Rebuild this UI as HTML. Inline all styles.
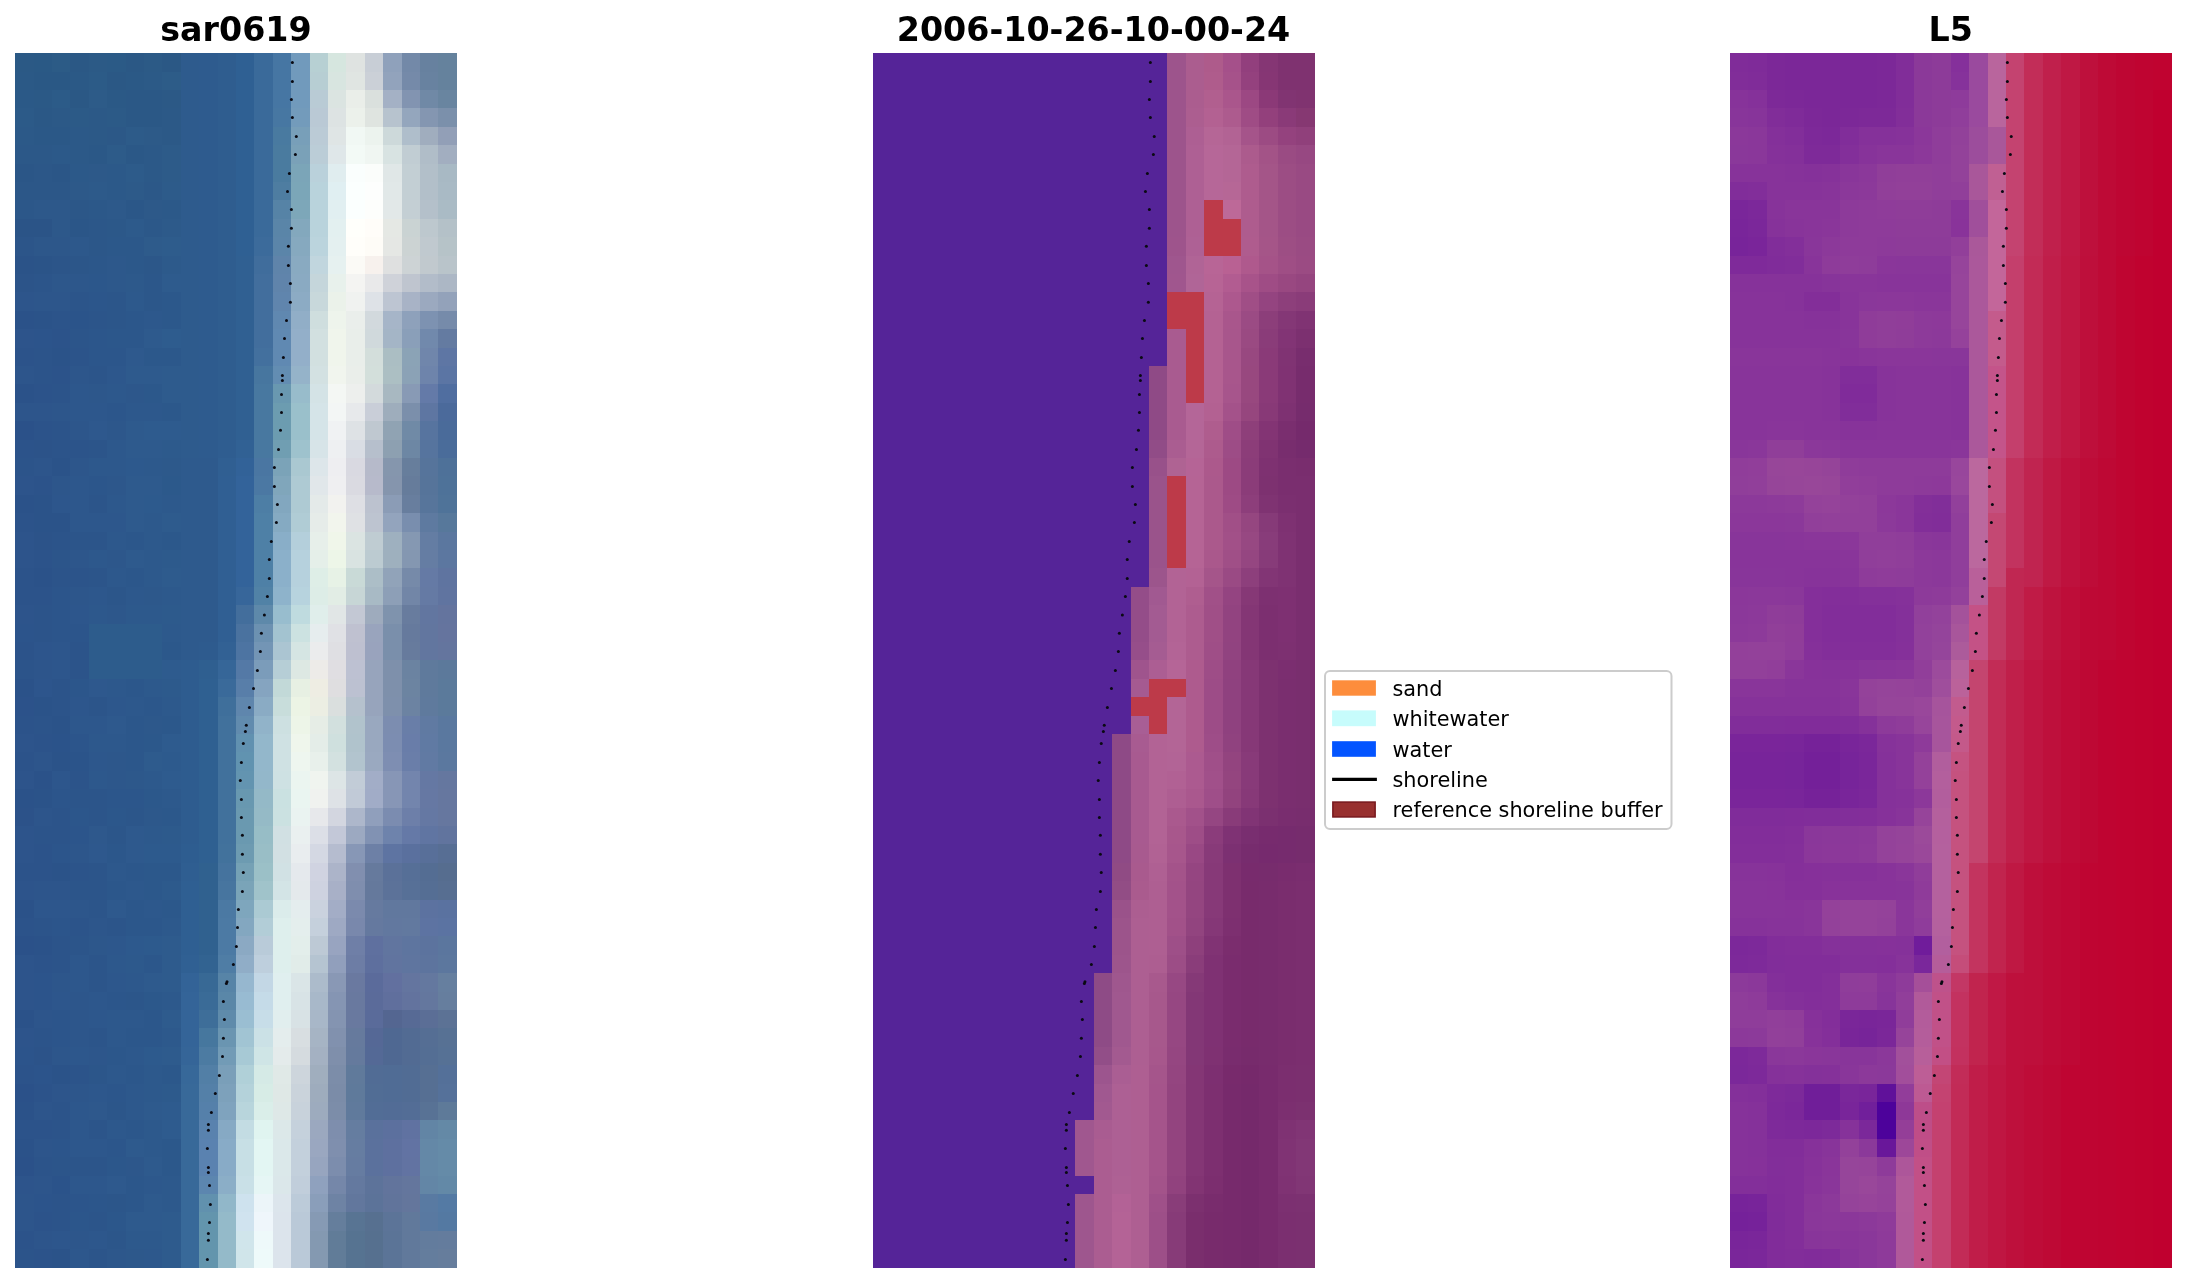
<!DOCTYPE html>
<html lang="en"><head><meta charset="utf-8"><title>shoreline detection figure</title>
<style>
html,body{margin:0;padding:0;background:#fff}
body{width:2187px;height:1283px;overflow:hidden}
svg{display:block;will-change:transform}
.t{font-family:"DejaVu Sans","Liberation Sans",sans-serif;font-weight:bold;font-size:33.3px;fill:#000;text-anchor:middle}
.l{font-family:"DejaVu Sans","Liberation Sans",sans-serif;font-size:20.83px;fill:#000}
.px{shape-rendering:crispEdges}
</style></head>
<body>
<svg width="2187" height="1283" viewBox="0 0 2187 1283">
<g class="px" transform="translate(15.15,53.2) scale(18.4)">
<path d="M0 0h1v1h-1z" fill="#2b5985"/>
<path d="M1 0h1v1h-1z" fill="#2a5985"/>
<path d="M2 0h1v1h-1z" fill="#2c5b86"/>
<path d="M3 0h1v1h-1z" fill="#2b5885"/>
<path d="M4 0h1v1h-1z" fill="#2c5a86"/>
<path d="M5 0h1v1h-1z" fill="#2b5a86"/>
<path d="M6 0h1v1h-1z" fill="#2b5885"/>
<path d="M7 0h1v1h-1z" fill="#2c5a86"/>
<path d="M8 0h1v1h-1z" fill="#2b5885"/>
<path d="M9 0h1v22h-1z" fill="#2e5b8d"/>
<path d="M10 0h1v22h-1z" fill="#2e5b8e"/>
<path d="M11 0h1v21h-1z" fill="#2f5d8f"/>
<path d="M12 0h1v11h-1z" fill="#2f6093"/>
<path d="M13 0h1v10h-1z" fill="#3a6a9a"/>
<path d="M14 0h1v3h-1z" fill="#4676a3"/>
<path d="M15 0h1v3h-1z" fill="#719abc"/>
<path d="M16 0h1v1h-1z" fill="#b7d0d3"/>
<path d="M17 0h1v1h-1z" fill="#d6e6df"/>
<path d="M18 0h1v1h-1z" fill="#dfe3e1"/>
<path d="M19 0h1v1h-1z" fill="#c8ced6"/>
<path d="M20 0h1v1h-1z" fill="#8fa1bb"/>
<path d="M21 0h1v1h-1z" fill="#7389a8"/>
<path d="M22 0h1v1h-1z" fill="#67819f"/>
<path d="M23 0h1v2h-1z" fill="#65829d"/>
<path d="M0 1h1v1h-1z" fill="#2b5986"/>
<path d="M1 1h2v1h-2z" fill="#2a5885"/>
<path d="M3 1h1v1h-1z" fill="#2b5986"/>
<path d="M4 1h1v1h-1z" fill="#2c5b87"/>
<path d="M5 1h1v1h-1z" fill="#2b5885"/>
<path d="M6 1h1v1h-1z" fill="#2b5986"/>
<path d="M7 1h1v1h-1z" fill="#2c5a87"/>
<path d="M8 1h1v1h-1z" fill="#2d5c88"/>
<path d="M16 1h1v1h-1z" fill="#b7ced3"/>
<path d="M17 1h1v1h-1z" fill="#d8e5e0"/>
<path d="M18 1h1v1h-1z" fill="#e0e5e2"/>
<path d="M19 1h1v1h-1z" fill="#cbd0d7"/>
<path d="M20 1h1v1h-1z" fill="#92a3bc"/>
<path d="M21 1h1v1h-1z" fill="#758aa9"/>
<path d="M22 1h1v1h-1z" fill="#6882a0"/>
<path d="M0 2h1v1h-1z" fill="#2b5987"/>
<path d="M1 2h1v1h-1z" fill="#2b5986"/>
<path d="M2 2h1v1h-1z" fill="#2c5b88"/>
<path d="M3 2h1v1h-1z" fill="#2b5885"/>
<path d="M4 2h1v1h-1z" fill="#2d5b88"/>
<path d="M5 2h1v1h-1z" fill="#2b5986"/>
<path d="M6 2h2v2h-2z" fill="#2b5886"/>
<path d="M8 2h1v1h-1z" fill="#2c5986"/>
<path d="M16 2h1v1h-1z" fill="#b9cbd5"/>
<path d="M17 2h1v1h-1z" fill="#dbe4e1"/>
<path d="M18 2h1v1h-1z" fill="#eaeee9"/>
<path d="M19 2h1v1h-1z" fill="#dae0dd"/>
<path d="M20 2h1v1h-1z" fill="#a4b1c5"/>
<path d="M21 2h1v1h-1z" fill="#8294b1"/>
<path d="M22 2h1v1h-1z" fill="#7089a6"/>
<path d="M23 2h1v1h-1z" fill="#6985a0"/>
<path d="M0 3h1v1h-1z" fill="#2c5a88"/>
<path d="M1 3h1v1h-1z" fill="#2b5886"/>
<path d="M2 3h1v1h-1z" fill="#2c5987"/>
<path d="M3 3h1v1h-1z" fill="#2c5a87"/>
<path d="M4 3h1v2h-1z" fill="#2c5987"/>
<path d="M5 3h1v1h-1z" fill="#2c5a87"/>
<path d="M8 3h1v2h-1z" fill="#2c5987"/>
<path d="M14 3h1v1h-1z" fill="#4777a2"/>
<path d="M15 3h1v1h-1z" fill="#739bbb"/>
<path d="M16 3h1v1h-1z" fill="#bac9d5"/>
<path d="M17 3h1v1h-1z" fill="#dde3e3"/>
<path d="M18 3h1v1h-1z" fill="#ecf1eb"/>
<path d="M19 3h1v1h-1z" fill="#dfe4e0"/>
<path d="M20 3h1v1h-1z" fill="#b7c3ce"/>
<path d="M21 3h1v1h-1z" fill="#94a6bd"/>
<path d="M22 3h1v1h-1z" fill="#8496b1"/>
<path d="M23 3h1v1h-1z" fill="#7b90ab"/>
<path d="M0 4h1v1h-1z" fill="#2c5988"/>
<path d="M1 4h2v1h-2z" fill="#2b5887"/>
<path d="M3 4h1v2h-1z" fill="#2c5988"/>
<path d="M5 4h1v1h-1z" fill="#2c5887"/>
<path d="M6 4h1v1h-1z" fill="#2d5b89"/>
<path d="M7 4h1v1h-1z" fill="#2d5a88"/>
<path d="M14 4h1v1h-1z" fill="#497aa0"/>
<path d="M15 4h1v1h-1z" fill="#789fb9"/>
<path d="M16 4h1v1h-1z" fill="#bbcbd6"/>
<path d="M17 4h1v1h-1z" fill="#dfe5e5"/>
<path d="M18 4h1v1h-1z" fill="#f1f8f4"/>
<path d="M19 4h1v1h-1z" fill="#ecf3ee"/>
<path d="M20 4h1v1h-1z" fill="#cdd9da"/>
<path d="M21 4h1v1h-1z" fill="#afbecb"/>
<path d="M22 4h1v1h-1z" fill="#a0adbe"/>
<path d="M23 4h1v1h-1z" fill="#929fb7"/>
<path d="M0 5h2v1h-2z" fill="#2c5888"/>
<path d="M2 5h1v1h-1z" fill="#2c5989"/>
<path d="M4 5h1v1h-1z" fill="#2b5887"/>
<path d="M5 5h1v1h-1z" fill="#2d5b89"/>
<path d="M6 5h1v1h-1z" fill="#2b5887"/>
<path d="M7 5h1v2h-1z" fill="#2c5988"/>
<path d="M8 5h1v2h-1z" fill="#2d5b89"/>
<path d="M14 5h1v2h-1z" fill="#4a7b9f"/>
<path d="M15 5h1v1h-1z" fill="#7aa1b8"/>
<path d="M16 5h1v1h-1z" fill="#bbcdd7"/>
<path d="M17 5h1v1h-1z" fill="#dfe7e9"/>
<path d="M18 5h1v1h-1z" fill="#f3faf6"/>
<path d="M19 5h1v1h-1z" fill="#f0f6f2"/>
<path d="M20 5h1v1h-1z" fill="#d8e3e2"/>
<path d="M21 5h1v1h-1z" fill="#c1cdd3"/>
<path d="M22 5h1v1h-1z" fill="#b0bdc8"/>
<path d="M23 5h1v1h-1z" fill="#a2aec0"/>
<path d="M0 6h1v1h-1z" fill="#2b5687"/>
<path d="M1 6h1v2h-1z" fill="#2c5788"/>
<path d="M2 6h1v1h-1z" fill="#2b5687"/>
<path d="M3 6h1v1h-1z" fill="#2c5989"/>
<path d="M4 6h1v1h-1z" fill="#2d5989"/>
<path d="M5 6h1v2h-1z" fill="#2c5989"/>
<path d="M6 6h1v1h-1z" fill="#2d5b8a"/>
<path d="M15 6h1v1h-1z" fill="#7ba5b8"/>
<path d="M16 6h1v1h-1z" fill="#bad1db"/>
<path d="M17 6h1v1h-1z" fill="#e0edef"/>
<path d="M18 6h1v1h-1z" fill="#fafefd"/>
<path d="M19 6h1v1h-1z" fill="#fbfdfb"/>
<path d="M20 6h1v1h-1z" fill="#e0e7e7"/>
<path d="M21 6h1v2h-1z" fill="#c3cfd4"/>
<path d="M22 6h1v2h-1z" fill="#b2bfc9"/>
<path d="M23 6h1v1h-1z" fill="#a8b9c4"/>
<path d="M0 7h1v1h-1z" fill="#2c5788"/>
<path d="M2 7h1v1h-1z" fill="#2c5788"/>
<path d="M3 7h1v1h-1z" fill="#2d5989"/>
<path d="M4 7h1v1h-1z" fill="#2d5a8a"/>
<path d="M6 7h1v1h-1z" fill="#2d5a89"/>
<path d="M7 7h1v1h-1z" fill="#2c5888"/>
<path d="M8 7h1v1h-1z" fill="#2d5b8a"/>
<path d="M14 7h1v1h-1z" fill="#4e7da1"/>
<path d="M15 7h1v1h-1z" fill="#7ba6b8"/>
<path d="M16 7h1v3h-1z" fill="#b9d3dc"/>
<path d="M17 7h1v1h-1z" fill="#e0eff2"/>
<path d="M18 7h1v2h-1z" fill="#fbfffe"/>
<path d="M19 7h1v1h-1z" fill="#fdfefd"/>
<path d="M20 7h1v1h-1z" fill="#e1e8e8"/>
<path d="M23 7h1v1h-1z" fill="#a9bac5"/>
<path d="M0 8h1v1h-1z" fill="#2c5789"/>
<path d="M1 8h2v1h-2z" fill="#2d588a"/>
<path d="M3 8h1v1h-1z" fill="#2c5788"/>
<path d="M4 8h1v1h-1z" fill="#2c5889"/>
<path d="M5 8h1v1h-1z" fill="#2d598a"/>
<path d="M6 8h1v1h-1z" fill="#2b5788"/>
<path d="M7 8h1v1h-1z" fill="#2d5989"/>
<path d="M8 8h1v1h-1z" fill="#2c5989"/>
<path d="M14 8h1v1h-1z" fill="#5683a6"/>
<path d="M15 8h1v1h-1z" fill="#7da7b9"/>
<path d="M17 8h1v1h-1z" fill="#e1eff1"/>
<path d="M19 8h1v1h-1z" fill="#fdfefc"/>
<path d="M20 8h1v1h-1z" fill="#e2e8e8"/>
<path d="M21 8h1v1h-1z" fill="#c4cfd4"/>
<path d="M22 8h1v1h-1z" fill="#b4c0ca"/>
<path d="M23 8h1v1h-1z" fill="#aabbc5"/>
<path d="M0 9h2v1h-2z" fill="#2b5487"/>
<path d="M2 9h1v1h-1z" fill="#2d588a"/>
<path d="M3 9h1v1h-1z" fill="#2b5688"/>
<path d="M4 9h1v2h-1z" fill="#2c5789"/>
<path d="M5 9h1v1h-1z" fill="#2c5889"/>
<path d="M6 9h1v1h-1z" fill="#2d5a8b"/>
<path d="M7 9h1v1h-1z" fill="#2c5889"/>
<path d="M8 9h1v1h-1z" fill="#2d5a8a"/>
<path d="M14 9h1v1h-1z" fill="#5a85a8"/>
<path d="M15 9h1v1h-1z" fill="#83a8bd"/>
<path d="M17 9h1v1h-1z" fill="#e3f0f0"/>
<path d="M18 9h1v1h-1z" fill="#fffffb"/>
<path d="M19 9h1v1h-1z" fill="#fffdf9"/>
<path d="M20 9h1v1h-1z" fill="#e5e8e4"/>
<path d="M21 9h1v1h-1z" fill="#cad3d3"/>
<path d="M22 9h1v1h-1z" fill="#bdc8ce"/>
<path d="M23 9h1v1h-1z" fill="#b4c1c8"/>
<path d="M0 10h1v1h-1z" fill="#2c5589"/>
<path d="M1 10h2v1h-2z" fill="#2d578a"/>
<path d="M3 10h1v1h-1z" fill="#2d588b"/>
<path d="M5 10h2v1h-2z" fill="#2c588a"/>
<path d="M7 10h1v1h-1z" fill="#2e5b8b"/>
<path d="M8 10h1v1h-1z" fill="#2e5c8c"/>
<path d="M13 10h1v1h-1z" fill="#3c6b9b"/>
<path d="M14 10h1v1h-1z" fill="#5b85a9"/>
<path d="M15 10h1v1h-1z" fill="#86a9bf"/>
<path d="M16 10h1v1h-1z" fill="#bbd4dd"/>
<path d="M17 10h1v1h-1z" fill="#e4f0f0"/>
<path d="M18 10h1v1h-1z" fill="#fffefa"/>
<path d="M19 10h1v1h-1z" fill="#fefcf7"/>
<path d="M20 10h1v1h-1z" fill="#e5e7e4"/>
<path d="M21 10h1v1h-1z" fill="#ccd3d3"/>
<path d="M22 10h1v1h-1z" fill="#c0c9cf"/>
<path d="M23 10h1v1h-1z" fill="#b6c3c8"/>
<path d="M0 11h1v1h-1z" fill="#2b5388"/>
<path d="M1 11h1v1h-1z" fill="#2b5488"/>
<path d="M2 11h1v1h-1z" fill="#2c5589"/>
<path d="M3 11h1v1h-1z" fill="#2c5689"/>
<path d="M4 11h1v1h-1z" fill="#2c578a"/>
<path d="M5 11h1v2h-1z" fill="#2d588b"/>
<path d="M6 11h1v1h-1z" fill="#2c588a"/>
<path d="M7 11h1v1h-1z" fill="#2c5789"/>
<path d="M8 11h1v1h-1z" fill="#2d5a8b"/>
<path d="M12 11h1v10h-1z" fill="#306092"/>
<path d="M13 11h1v1h-1z" fill="#406d9c"/>
<path d="M14 11h1v1h-1z" fill="#5f84aa"/>
<path d="M15 11h1v1h-1z" fill="#89aac1"/>
<path d="M16 11h1v1h-1z" fill="#c1d6de"/>
<path d="M17 11h1v1h-1z" fill="#e6f1f0"/>
<path d="M18 11h1v1h-1z" fill="#fbfaf6"/>
<path d="M19 11h1v1h-1z" fill="#f7f1ed"/>
<path d="M20 11h1v1h-1z" fill="#dfe0e0"/>
<path d="M21 11h1v1h-1z" fill="#cdd3d5"/>
<path d="M22 11h1v1h-1z" fill="#c1c9ce"/>
<path d="M23 11h1v1h-1z" fill="#b9c4ca"/>
<path d="M0 12h1v1h-1z" fill="#2c5489"/>
<path d="M1 12h1v1h-1z" fill="#2c558a"/>
<path d="M2 12h2v1h-2z" fill="#2d578b"/>
<path d="M4 12h1v1h-1z" fill="#2c578b"/>
<path d="M6 12h1v1h-1z" fill="#2d598b"/>
<path d="M7 12h1v2h-1z" fill="#2c578a"/>
<path d="M8 12h1v1h-1z" fill="#2e5b8d"/>
<path d="M13 12h1v4h-1z" fill="#426e9d"/>
<path d="M14 12h1v1h-1z" fill="#6084ab"/>
<path d="M15 12h1v1h-1z" fill="#8aaac2"/>
<path d="M16 12h1v1h-1z" fill="#c5d6db"/>
<path d="M17 12h1v1h-1z" fill="#e8f1ec"/>
<path d="M18 12h1v1h-1z" fill="#f4f4f2"/>
<path d="M19 12h1v1h-1z" fill="#e9e9ea"/>
<path d="M20 12h1v1h-1z" fill="#cfd2d9"/>
<path d="M21 12h1v1h-1z" fill="#bfc5cf"/>
<path d="M22 12h1v1h-1z" fill="#b2bcc9"/>
<path d="M23 12h1v1h-1z" fill="#acb7c5"/>
<path d="M0 13h1v1h-1z" fill="#2d558b"/>
<path d="M1 13h2v1h-2z" fill="#2d568b"/>
<path d="M3 13h1v1h-1z" fill="#2c558a"/>
<path d="M4 13h1v1h-1z" fill="#2c568b"/>
<path d="M5 13h1v2h-1z" fill="#2c568a"/>
<path d="M6 13h1v1h-1z" fill="#2d598c"/>
<path d="M8 13h1v2h-1z" fill="#2c588b"/>
<path d="M14 13h1v1h-1z" fill="#6085ad"/>
<path d="M15 13h1v1h-1z" fill="#8cabc4"/>
<path d="M16 13h1v1h-1z" fill="#c8d8db"/>
<path d="M17 13h1v1h-1z" fill="#ebf2ea"/>
<path d="M18 13h1v1h-1z" fill="#f0f2f0"/>
<path d="M19 13h1v1h-1z" fill="#dee2e7"/>
<path d="M20 13h1v1h-1z" fill="#bdc5d2"/>
<path d="M21 13h1v1h-1z" fill="#a8b3c6"/>
<path d="M22 13h1v1h-1z" fill="#9ba9bf"/>
<path d="M23 13h1v1h-1z" fill="#93a2ba"/>
<path d="M0 14h1v1h-1z" fill="#2b5289"/>
<path d="M1 14h1v1h-1z" fill="#2b5389"/>
<path d="M2 14h1v1h-1z" fill="#2c548a"/>
<path d="M3 14h1v1h-1z" fill="#2b548a"/>
<path d="M4 14h1v1h-1z" fill="#2c558a"/>
<path d="M6 14h1v2h-1z" fill="#2c578b"/>
<path d="M7 14h1v1h-1z" fill="#2d588c"/>
<path d="M14 14h1v1h-1z" fill="#6088b0"/>
<path d="M15 14h1v1h-1z" fill="#91aec7"/>
<path d="M16 14h1v1h-1z" fill="#cfdede"/>
<path d="M17 14h1v1h-1z" fill="#eef4ec"/>
<path d="M18 14h1v1h-1z" fill="#eaeeeb"/>
<path d="M19 14h1v1h-1z" fill="#d2d9dd"/>
<path d="M20 14h1v1h-1z" fill="#a6b5c8"/>
<path d="M21 14h1v1h-1z" fill="#8ea1bb"/>
<path d="M22 14h1v1h-1z" fill="#7d92b1"/>
<path d="M23 14h1v1h-1z" fill="#768baa"/>
<path d="M0 15h1v1h-1z" fill="#2d548b"/>
<path d="M1 15h1v1h-1z" fill="#2c548b"/>
<path d="M2 15h1v1h-1z" fill="#2c538a"/>
<path d="M3 15h1v1h-1z" fill="#2c558a"/>
<path d="M4 15h1v2h-1z" fill="#2c568b"/>
<path d="M5 15h1v1h-1z" fill="#2c578b"/>
<path d="M7 15h1v1h-1z" fill="#2e5a8d"/>
<path d="M8 15h1v1h-1z" fill="#2e5c8e"/>
<path d="M14 15h1v2h-1z" fill="#6089b2"/>
<path d="M15 15h1v2h-1z" fill="#93afc9"/>
<path d="M16 15h1v2h-1z" fill="#d2e0e0"/>
<path d="M17 15h1v2h-1z" fill="#f0f5ec"/>
<path d="M18 15h1v2h-1z" fill="#e9eeea"/>
<path d="M19 15h1v1h-1z" fill="#d0d9dc"/>
<path d="M20 15h1v1h-1z" fill="#a4b5c6"/>
<path d="M21 15h1v1h-1z" fill="#8a9fb9"/>
<path d="M22 15h1v1h-1z" fill="#7189ac"/>
<path d="M23 15h1v1h-1z" fill="#647ba1"/>
<path d="M0 16h1v1h-1z" fill="#2c538a"/>
<path d="M1 16h1v2h-1z" fill="#2c548a"/>
<path d="M2 16h1v1h-1z" fill="#2b5389"/>
<path d="M3 16h1v1h-1z" fill="#2c548a"/>
<path d="M5 16h1v1h-1z" fill="#2c568b"/>
<path d="M6 16h1v1h-1z" fill="#2e598d"/>
<path d="M7 16h2v1h-2z" fill="#2c588b"/>
<path d="M13 16h1v1h-1z" fill="#43709e"/>
<path d="M19 16h1v1h-1z" fill="#d3dedb"/>
<path d="M20 16h1v1h-1z" fill="#abbec3"/>
<path d="M21 16h1v1h-1z" fill="#8ba3b6"/>
<path d="M22 16h1v1h-1z" fill="#7086ab"/>
<path d="M23 16h1v1h-1z" fill="#5e76a4"/>
<path d="M0 17h1v1h-1z" fill="#2d558b"/>
<path d="M2 17h1v1h-1z" fill="#2c538a"/>
<path d="M3 17h1v1h-1z" fill="#2d568b"/>
<path d="M4 17h1v1h-1z" fill="#2c558a"/>
<path d="M5 17h1v1h-1z" fill="#2d578c"/>
<path d="M6 17h2v1h-2z" fill="#2e5a8d"/>
<path d="M8 17h1v2h-1z" fill="#2e5b8d"/>
<path d="M13 17h1v1h-1z" fill="#47769f"/>
<path d="M14 17h1v1h-1z" fill="#638db2"/>
<path d="M15 17h1v1h-1z" fill="#95b3c9"/>
<path d="M16 17h1v1h-1z" fill="#d3e1e2"/>
<path d="M17 17h1v1h-1z" fill="#f1f5ee"/>
<path d="M18 17h1v1h-1z" fill="#eaeeea"/>
<path d="M19 17h1v1h-1z" fill="#d3dfdb"/>
<path d="M20 17h1v1h-1z" fill="#acbfc3"/>
<path d="M21 17h1v1h-1z" fill="#8ba2b6"/>
<path d="M22 17h1v1h-1z" fill="#6e84ab"/>
<path d="M23 17h1v1h-1z" fill="#5b75a4"/>
<path d="M0 18h1v1h-1z" fill="#2b5289"/>
<path d="M1 18h1v1h-1z" fill="#2c538a"/>
<path d="M2 18h1v1h-1z" fill="#2c548a"/>
<path d="M3 18h1v2h-1z" fill="#2d578c"/>
<path d="M4 18h1v1h-1z" fill="#2d578b"/>
<path d="M5 18h1v1h-1z" fill="#2d588c"/>
<path d="M6 18h1v1h-1z" fill="#2d578b"/>
<path d="M7 18h1v1h-1z" fill="#2c588b"/>
<path d="M13 18h1v4h-1z" fill="#4878a0"/>
<path d="M14 18h1v1h-1z" fill="#6998b0"/>
<path d="M15 18h1v1h-1z" fill="#98bccb"/>
<path d="M16 18h1v1h-1z" fill="#d4e3e6"/>
<path d="M17 18h1v1h-1z" fill="#f4f7f4"/>
<path d="M18 18h1v1h-1z" fill="#edefed"/>
<path d="M19 18h1v1h-1z" fill="#d3dadc"/>
<path d="M20 18h1v1h-1z" fill="#a8b8c1"/>
<path d="M21 18h1v1h-1z" fill="#889ab5"/>
<path d="M22 18h1v1h-1z" fill="#647aa8"/>
<path d="M23 18h1v1h-1z" fill="#506ea0"/>
<path d="M0 19h2v1h-2z" fill="#2d558b"/>
<path d="M2 19h1v1h-1z" fill="#2d568b"/>
<path d="M4 19h1v1h-1z" fill="#2d578c"/>
<path d="M5 19h1v1h-1z" fill="#2c568b"/>
<path d="M6 19h2v1h-2z" fill="#2d588c"/>
<path d="M8 19h1v1h-1z" fill="#2c588b"/>
<path d="M14 19h1v2h-1z" fill="#6c9cb0"/>
<path d="M15 19h1v2h-1z" fill="#9ac0cb"/>
<path d="M16 19h1v2h-1z" fill="#d5e4e8"/>
<path d="M17 19h1v1h-1z" fill="#f3f6f5"/>
<path d="M18 19h1v1h-1z" fill="#e7e9eb"/>
<path d="M19 19h1v1h-1z" fill="#c9ced8"/>
<path d="M20 19h1v1h-1z" fill="#9eadbc"/>
<path d="M21 19h1v1h-1z" fill="#7b8fab"/>
<path d="M22 19h1v1h-1z" fill="#5e76a2"/>
<path d="M23 19h1v1h-1z" fill="#4b6a9b"/>
<path d="M0 20h1v1h-1z" fill="#2b5189"/>
<path d="M1 20h1v1h-1z" fill="#2c538a"/>
<path d="M2 20h1v2h-1z" fill="#2c548a"/>
<path d="M3 20h1v1h-1z" fill="#2d568b"/>
<path d="M4 20h1v1h-1z" fill="#2e588d"/>
<path d="M5 20h1v1h-1z" fill="#2d578b"/>
<path d="M6 20h1v2h-1z" fill="#2e5a8d"/>
<path d="M7 20h2v1h-2z" fill="#2e5b8e"/>
<path d="M17 20h1v1h-1z" fill="#f0f2f3"/>
<path d="M18 20h1v1h-1z" fill="#dee2e5"/>
<path d="M19 20h1v1h-1z" fill="#bfc8d0"/>
<path d="M20 20h1v1h-1z" fill="#90a3b3"/>
<path d="M21 20h1v1h-1z" fill="#708aa6"/>
<path d="M22 20h1v1h-1z" fill="#57749f"/>
<path d="M23 20h1v1h-1z" fill="#4a6b9a"/>
<path d="M0 21h1v1h-1z" fill="#2c538a"/>
<path d="M1 21h1v1h-1z" fill="#2c5389"/>
<path d="M3 21h1v1h-1z" fill="#2c548a"/>
<path d="M4 21h1v1h-1z" fill="#2c558a"/>
<path d="M5 21h1v2h-1z" fill="#2d588c"/>
<path d="M7 21h1v1h-1z" fill="#2e5a8d"/>
<path d="M8 21h1v1h-1z" fill="#2d5a8c"/>
<path d="M11 21h1v1h-1z" fill="#2f5d90"/>
<path d="M12 21h1v1h-1z" fill="#316194"/>
<path d="M14 21h1v1h-1z" fill="#709eb2"/>
<path d="M15 21h1v1h-1z" fill="#9ec2cd"/>
<path d="M16 21h1v1h-1z" fill="#d7e4e8"/>
<path d="M17 21h1v1h-1z" fill="#eef0f2"/>
<path d="M18 21h1v1h-1z" fill="#d9dde4"/>
<path d="M19 21h1v1h-1z" fill="#b6bfcc"/>
<path d="M20 21h1v1h-1z" fill="#8da0b1"/>
<path d="M21 21h1v1h-1z" fill="#6d87a4"/>
<path d="M22 21h1v1h-1z" fill="#56749e"/>
<path d="M23 21h1v1h-1z" fill="#4a6c9a"/>
<path d="M0 22h1v1h-1z" fill="#2c548a"/>
<path d="M1 22h1v1h-1z" fill="#2d558b"/>
<path d="M2 22h1v1h-1z" fill="#2b5389"/>
<path d="M3 22h1v1h-1z" fill="#2d568b"/>
<path d="M4 22h1v1h-1z" fill="#2d588c"/>
<path d="M6 22h1v1h-1z" fill="#2d598d"/>
<path d="M7 22h1v1h-1z" fill="#2d598c"/>
<path d="M8 22h1v1h-1z" fill="#2d598b"/>
<path d="M9 22h2v10h-2z" fill="#2e5a8d"/>
<path d="M11 22h1v1h-1z" fill="#305f92"/>
<path d="M12 22h1v1h-1z" fill="#326298"/>
<path d="M13 22h1v1h-1z" fill="#4a76a2"/>
<path d="M14 22h1v1h-1z" fill="#7ba3b8"/>
<path d="M15 22h1v1h-1z" fill="#aac8d1"/>
<path d="M16 22h1v1h-1z" fill="#dde6ea"/>
<path d="M17 22h1v1h-1z" fill="#eeeef1"/>
<path d="M18 22h1v1h-1z" fill="#d9d9e1"/>
<path d="M19 22h1v1h-1z" fill="#b6baca"/>
<path d="M20 22h1v1h-1z" fill="#8596ad"/>
<path d="M21 22h1v1h-1z" fill="#677e9c"/>
<path d="M22 22h1v1h-1z" fill="#56749b"/>
<path d="M23 22h1v1h-1z" fill="#4e7199"/>
<path d="M0 23h1v1h-1z" fill="#2d548b"/>
<path d="M1 23h1v1h-1z" fill="#2c538a"/>
<path d="M2 23h1v1h-1z" fill="#2d568b"/>
<path d="M3 23h1v3h-1z" fill="#2d578c"/>
<path d="M4 23h1v1h-1z" fill="#2c568b"/>
<path d="M5 23h1v1h-1z" fill="#2d578b"/>
<path d="M6 23h2v1h-2z" fill="#2e5a8d"/>
<path d="M8 23h1v1h-1z" fill="#2c598b"/>
<path d="M11 23h1v9h-1z" fill="#305f93"/>
<path d="M12 23h1v6h-1z" fill="#33639a"/>
<path d="M13 23h1v1h-1z" fill="#4b78a3"/>
<path d="M14 23h1v1h-1z" fill="#80a6bb"/>
<path d="M15 23h1v2h-1z" fill="#aecad3"/>
<path d="M16 23h1v1h-1z" fill="#e1e7ea"/>
<path d="M17 23h1v1h-1z" fill="#efeff1"/>
<path d="M18 23h1v1h-1z" fill="#dadae1"/>
<path d="M19 23h1v1h-1z" fill="#b7bacb"/>
<path d="M20 23h1v1h-1z" fill="#8595ad"/>
<path d="M21 23h1v1h-1z" fill="#667c9b"/>
<path d="M22 23h1v1h-1z" fill="#56749a"/>
<path d="M23 23h1v1h-1z" fill="#4e7299"/>
<path d="M0 24h1v1h-1z" fill="#2b5289"/>
<path d="M1 24h1v2h-1z" fill="#2b5389"/>
<path d="M2 24h1v1h-1z" fill="#2d568c"/>
<path d="M4 24h1v1h-1z" fill="#2c558a"/>
<path d="M5 24h1v1h-1z" fill="#2d588c"/>
<path d="M6 24h1v2h-1z" fill="#2e5a8d"/>
<path d="M7 24h1v1h-1z" fill="#2d5a8d"/>
<path d="M8 24h1v1h-1z" fill="#2d598c"/>
<path d="M13 24h1v1h-1z" fill="#4d7ea5"/>
<path d="M14 24h1v1h-1z" fill="#82a7bf"/>
<path d="M16 24h1v1h-1z" fill="#e4eae9"/>
<path d="M17 24h1v1h-1z" fill="#f2f2ef"/>
<path d="M18 24h1v1h-1z" fill="#dedfe4"/>
<path d="M19 24h1v1h-1z" fill="#bcc2cf"/>
<path d="M20 24h1v1h-1z" fill="#8b9cb6"/>
<path d="M21 24h1v1h-1z" fill="#687e9e"/>
<path d="M22 24h1v1h-1z" fill="#57759b"/>
<path d="M23 24h1v1h-1z" fill="#4f7399"/>
<path d="M0 25h1v1h-1z" fill="#2c538a"/>
<path d="M2 25h1v1h-1z" fill="#2b5389"/>
<path d="M4 25h2v1h-2z" fill="#2d578c"/>
<path d="M7 25h1v4h-1z" fill="#2d598c"/>
<path d="M8 25h1v1h-1z" fill="#2e5b8d"/>
<path d="M13 25h1v4h-1z" fill="#4e80a6"/>
<path d="M14 25h1v1h-1z" fill="#85aac2"/>
<path d="M15 25h1v1h-1z" fill="#b0ccd5"/>
<path d="M16 25h1v1h-1z" fill="#e6ece9"/>
<path d="M17 25h1v1h-1z" fill="#f2f5ed"/>
<path d="M18 25h1v1h-1z" fill="#dfe1e4"/>
<path d="M19 25h1v1h-1z" fill="#bdc4d0"/>
<path d="M20 25h1v1h-1z" fill="#93a4bd"/>
<path d="M21 25h1v1h-1z" fill="#798eae"/>
<path d="M22 25h1v1h-1z" fill="#5e7aa0"/>
<path d="M23 25h1v1h-1z" fill="#57789b"/>
<path d="M0 26h1v2h-1z" fill="#2d548b"/>
<path d="M1 26h1v1h-1z" fill="#2c5389"/>
<path d="M2 26h1v1h-1z" fill="#2c548a"/>
<path d="M3 26h2v1h-2z" fill="#2c558a"/>
<path d="M5 26h1v1h-1z" fill="#2d588c"/>
<path d="M6 26h1v1h-1z" fill="#2c578b"/>
<path d="M8 26h1v1h-1z" fill="#2c588b"/>
<path d="M14 26h1v1h-1z" fill="#89aec8"/>
<path d="M15 26h1v1h-1z" fill="#b4cfdb"/>
<path d="M16 26h1v1h-1z" fill="#e7efea"/>
<path d="M17 26h1v1h-1z" fill="#f0f6ea"/>
<path d="M18 26h1v1h-1z" fill="#dbe4e2"/>
<path d="M19 26h1v1h-1z" fill="#bfccd2"/>
<path d="M20 26h1v1h-1z" fill="#9eb0bf"/>
<path d="M21 26h1v1h-1z" fill="#8598b2"/>
<path d="M22 26h1v1h-1z" fill="#647da3"/>
<path d="M23 26h1v1h-1z" fill="#5b779f"/>
<path d="M1 27h1v1h-1z" fill="#2c538a"/>
<path d="M2 27h1v1h-1z" fill="#2c558a"/>
<path d="M3 27h1v1h-1z" fill="#2d568b"/>
<path d="M4 27h1v1h-1z" fill="#2d588c"/>
<path d="M5 27h1v1h-1z" fill="#2d578b"/>
<path d="M6 27h1v1h-1z" fill="#2e5a8d"/>
<path d="M8 27h1v1h-1z" fill="#2d5a8c"/>
<path d="M14 27h1v2h-1z" fill="#8bb0ca"/>
<path d="M15 27h1v2h-1z" fill="#b6d1dd"/>
<path d="M16 27h1v1h-1z" fill="#e5efe9"/>
<path d="M17 27h1v1h-1z" fill="#edf6e8"/>
<path d="M18 27h1v1h-1z" fill="#d9e3e1"/>
<path d="M19 27h1v1h-1z" fill="#bccbd1"/>
<path d="M20 27h1v1h-1z" fill="#9eb0be"/>
<path d="M21 27h1v1h-1z" fill="#8497b1"/>
<path d="M22 27h1v1h-1z" fill="#657da3"/>
<path d="M23 27h1v1h-1z" fill="#5c77a0"/>
<path d="M0 28h1v2h-1z" fill="#2c538a"/>
<path d="M1 28h1v1h-1z" fill="#2b5289"/>
<path d="M2 28h2v1h-2z" fill="#2c548a"/>
<path d="M4 28h1v1h-1z" fill="#2c558a"/>
<path d="M5 28h1v1h-1z" fill="#2d588c"/>
<path d="M6 28h1v1h-1z" fill="#2c578b"/>
<path d="M8 28h1v1h-1z" fill="#2e5b8d"/>
<path d="M16 28h1v1h-1z" fill="#deeee7"/>
<path d="M17 28h1v1h-1z" fill="#e7f2e6"/>
<path d="M18 28h1v1h-1z" fill="#c9dad7"/>
<path d="M19 28h1v1h-1z" fill="#acbec7"/>
<path d="M20 28h1v1h-1z" fill="#91a3b9"/>
<path d="M21 28h1v1h-1z" fill="#768aa9"/>
<path d="M22 28h1v1h-1z" fill="#657aa5"/>
<path d="M23 28h1v1h-1z" fill="#5f74a0"/>
<path d="M1 29h1v1h-1z" fill="#2c538a"/>
<path d="M2 29h1v3h-1z" fill="#2c558b"/>
<path d="M3 29h1v1h-1z" fill="#2d568b"/>
<path d="M4 29h1v1h-1z" fill="#2d578c"/>
<path d="M5 29h1v1h-1z" fill="#2c568a"/>
<path d="M6 29h1v1h-1z" fill="#2d588c"/>
<path d="M7 29h1v1h-1z" fill="#2d588b"/>
<path d="M8 29h1v1h-1z" fill="#2d598c"/>
<path d="M12 29h1v1h-1z" fill="#37669a"/>
<path d="M13 29h1v1h-1z" fill="#5182a6"/>
<path d="M14 29h1v1h-1z" fill="#8eb3cb"/>
<path d="M15 29h1v1h-1z" fill="#b7d3de"/>
<path d="M16 29h1v1h-1z" fill="#ddede7"/>
<path d="M17 29h1v1h-1z" fill="#e2ede5"/>
<path d="M18 29h1v1h-1z" fill="#c7d6d6"/>
<path d="M19 29h1v1h-1z" fill="#a8bac5"/>
<path d="M20 29h1v1h-1z" fill="#8d9fb7"/>
<path d="M21 29h1v1h-1z" fill="#7286a7"/>
<path d="M22 29h1v1h-1z" fill="#657aa4"/>
<path d="M23 29h1v1h-1z" fill="#6074a0"/>
<path d="M0 30h1v1h-1z" fill="#2d548b"/>
<path d="M1 30h1v2h-1z" fill="#2c548a"/>
<path d="M3 30h1v1h-1z" fill="#2d568c"/>
<path d="M4 30h1v1h-1z" fill="#2d588c"/>
<path d="M5 30h1v1h-1z" fill="#2d578b"/>
<path d="M6 30h2v1h-2z" fill="#2d598c"/>
<path d="M8 30h1v1h-1z" fill="#2d5a8c"/>
<path d="M12 30h1v1h-1z" fill="#436e9c"/>
<path d="M13 30h1v1h-1z" fill="#5e89aa"/>
<path d="M14 30h1v1h-1z" fill="#98bdce"/>
<path d="M15 30h1v1h-1z" fill="#bfdbdf"/>
<path d="M16 30h1v1h-1z" fill="#e0eeeb"/>
<path d="M17 30h1v1h-1z" fill="#e1e6e6"/>
<path d="M18 30h1v1h-1z" fill="#c3c8d4"/>
<path d="M19 30h1v1h-1z" fill="#9eabbd"/>
<path d="M20 30h1v1h-1z" fill="#7f93ad"/>
<path d="M21 30h1v1h-1z" fill="#687c9e"/>
<path d="M22 30h1v1h-1z" fill="#6276a0"/>
<path d="M23 30h1v1h-1z" fill="#64749e"/>
<path d="M0 31h1v1h-1z" fill="#2c548b"/>
<path d="M3 31h1v1h-1z" fill="#2c558b"/>
<path d="M4 31h4v3h-4z" fill="#2d5c8c"/>
<path d="M8 31h1v1h-1z" fill="#2d598c"/>
<path d="M12 31h1v1h-1z" fill="#4a729f"/>
<path d="M13 31h1v1h-1z" fill="#6c91b1"/>
<path d="M14 31h1v1h-1z" fill="#a3c3d0"/>
<path d="M15 31h1v1h-1z" fill="#cce2e1"/>
<path d="M16 31h1v1h-1z" fill="#e6edee"/>
<path d="M17 31h1v1h-1z" fill="#e0e1e5"/>
<path d="M18 31h1v1h-1z" fill="#bfc1d0"/>
<path d="M19 31h1v1h-1z" fill="#99a4bd"/>
<path d="M20 31h1v2h-1z" fill="#7a8fab"/>
<path d="M21 31h1v1h-1z" fill="#667a9d"/>
<path d="M22 31h1v2h-1z" fill="#62769f"/>
<path d="M23 31h1v1h-1z" fill="#65749e"/>
<path d="M0 32h1v1h-1z" fill="#2c538a"/>
<path d="M1 32h1v1h-1z" fill="#2d558c"/>
<path d="M2 32h1v2h-1z" fill="#2d568c"/>
<path d="M3 32h1v2h-1z" fill="#2c548a"/>
<path d="M8 32h1v1h-1z" fill="#2c588b"/>
<path d="M9 32h1v1h-1z" fill="#2e5a8d"/>
<path d="M10 32h1v1h-1z" fill="#2e5b8e"/>
<path d="M11 32h1v1h-1z" fill="#326194"/>
<path d="M12 32h1v1h-1z" fill="#4d74a2"/>
<path d="M13 32h1v1h-1z" fill="#7395b5"/>
<path d="M14 32h1v1h-1z" fill="#abc5d2"/>
<path d="M15 32h1v1h-1z" fill="#d5e5e3"/>
<path d="M16 32h1v1h-1z" fill="#ebeced"/>
<path d="M17 32h1v1h-1z" fill="#dfdfe3"/>
<path d="M18 32h1v1h-1z" fill="#bec0d0"/>
<path d="M19 32h1v1h-1z" fill="#99a3bd"/>
<path d="M21 32h1v1h-1z" fill="#677b9d"/>
<path d="M23 32h1v1h-1z" fill="#64759e"/>
<path d="M0 33h1v1h-1z" fill="#2c548a"/>
<path d="M1 33h1v1h-1z" fill="#2d558b"/>
<path d="M8 33h1v1h-1z" fill="#2e5b8e"/>
<path d="M9 33h1v10h-1z" fill="#2e5c8f"/>
<path d="M10 33h1v1h-1z" fill="#2f5f90"/>
<path d="M11 33h1v1h-1z" fill="#366698"/>
<path d="M12 33h1v1h-1z" fill="#5479a6"/>
<path d="M13 33h1v1h-1z" fill="#7b9cba"/>
<path d="M14 33h1v1h-1z" fill="#b6ced6"/>
<path d="M15 33h1v1h-1z" fill="#dde8e3"/>
<path d="M16 33h1v1h-1z" fill="#edebe8"/>
<path d="M17 33h1v1h-1z" fill="#e0dee2"/>
<path d="M18 33h1v1h-1z" fill="#bdc1d2"/>
<path d="M19 33h1v3h-1z" fill="#97a4bc"/>
<path d="M20 33h1v2h-1z" fill="#7e90ab"/>
<path d="M21 33h1v1h-1z" fill="#6b83a1"/>
<path d="M22 33h1v2h-1z" fill="#5f7a9c"/>
<path d="M23 33h1v1h-1z" fill="#5c799b"/>
<path d="M0 34h1v1h-1z" fill="#2b5289"/>
<path d="M1 34h1v1h-1z" fill="#2d558c"/>
<path d="M2 34h1v2h-1z" fill="#2c548a"/>
<path d="M3 34h1v1h-1z" fill="#2c568b"/>
<path d="M4 34h1v1h-1z" fill="#2e588d"/>
<path d="M5 34h1v1h-1z" fill="#2d588c"/>
<path d="M6 34h1v1h-1z" fill="#2c578b"/>
<path d="M7 34h1v1h-1z" fill="#2d598c"/>
<path d="M8 34h1v1h-1z" fill="#2d5a8c"/>
<path d="M10 34h1v10h-1z" fill="#2f6091"/>
<path d="M11 34h1v1h-1z" fill="#3a6a9a"/>
<path d="M12 34h1v1h-1z" fill="#587ea9"/>
<path d="M13 34h1v1h-1z" fill="#85a4c0"/>
<path d="M14 34h1v1h-1z" fill="#c2d9d8"/>
<path d="M15 34h1v1h-1z" fill="#e7f0e3"/>
<path d="M16 34h1v1h-1z" fill="#eeede3"/>
<path d="M17 34h1v1h-1z" fill="#dfdee0"/>
<path d="M18 34h1v1h-1z" fill="#bcc1d1"/>
<path d="M21 34h1v1h-1z" fill="#6c84a1"/>
<path d="M23 34h1v2h-1z" fill="#5b7a9b"/>
<path d="M0 35h1v1h-1z" fill="#2c528a"/>
<path d="M1 35h1v1h-1z" fill="#2b5389"/>
<path d="M3 35h1v1h-1z" fill="#2d568c"/>
<path d="M4 35h1v1h-1z" fill="#2c558a"/>
<path d="M5 35h1v1h-1z" fill="#2d578c"/>
<path d="M6 35h1v1h-1z" fill="#2d588c"/>
<path d="M7 35h1v1h-1z" fill="#2c578b"/>
<path d="M8 35h1v1h-1z" fill="#2d598c"/>
<path d="M11 35h1v1h-1z" fill="#3f6f9b"/>
<path d="M12 35h1v1h-1z" fill="#5f86ad"/>
<path d="M13 35h1v1h-1z" fill="#8aabc4"/>
<path d="M14 35h1v1h-1z" fill="#c8dddb"/>
<path d="M15 35h1v1h-1z" fill="#ecf4e5"/>
<path d="M16 35h1v1h-1z" fill="#eceee3"/>
<path d="M17 35h1v1h-1z" fill="#dadfde"/>
<path d="M18 35h1v1h-1z" fill="#b5c1cd"/>
<path d="M20 35h1v1h-1z" fill="#7e90ac"/>
<path d="M21 35h1v1h-1z" fill="#6c83a2"/>
<path d="M22 35h1v1h-1z" fill="#5f7a9d"/>
<path d="M0 36h1v1h-1z" fill="#2c538a"/>
<path d="M1 36h1v1h-1z" fill="#2c548a"/>
<path d="M2 36h1v1h-1z" fill="#2b5389"/>
<path d="M3 36h2v1h-2z" fill="#2d578c"/>
<path d="M5 36h1v1h-1z" fill="#2e598d"/>
<path d="M6 36h1v3h-1z" fill="#2c578b"/>
<path d="M7 36h1v1h-1z" fill="#2d588b"/>
<path d="M8 36h1v1h-1z" fill="#2c588b"/>
<path d="M11 36h1v7h-1z" fill="#41719c"/>
<path d="M12 36h1v1h-1z" fill="#618bae"/>
<path d="M13 36h1v1h-1z" fill="#91b3c9"/>
<path d="M14 36h1v1h-1z" fill="#cde0e1"/>
<path d="M15 36h1v1h-1z" fill="#edf5e8"/>
<path d="M16 36h1v1h-1z" fill="#e6ede6"/>
<path d="M17 36h1v1h-1z" fill="#d2e0de"/>
<path d="M18 36h1v1h-1z" fill="#b1c3cc"/>
<path d="M19 36h1v2h-1z" fill="#99a8bf"/>
<path d="M20 36h1v1h-1z" fill="#7c8db0"/>
<path d="M21 36h1v1h-1z" fill="#697ea8"/>
<path d="M22 36h1v1h-1z" fill="#607aa2"/>
<path d="M23 36h1v2h-1z" fill="#5a789f"/>
<path d="M0 37h1v1h-1z" fill="#2d548b"/>
<path d="M1 37h1v1h-1z" fill="#2c538a"/>
<path d="M2 37h1v1h-1z" fill="#2b538a"/>
<path d="M3 37h1v1h-1z" fill="#2c558b"/>
<path d="M4 37h2v1h-2z" fill="#2d588c"/>
<path d="M7 37h1v1h-1z" fill="#2c588b"/>
<path d="M8 37h1v1h-1z" fill="#2e5b8e"/>
<path d="M12 37h1v1h-1z" fill="#6191b0"/>
<path d="M13 37h1v2h-1z" fill="#93b7cb"/>
<path d="M14 37h1v2h-1z" fill="#cfe1e3"/>
<path d="M15 37h1v1h-1z" fill="#eff6ec"/>
<path d="M16 37h1v1h-1z" fill="#e4ede8"/>
<path d="M17 37h1v1h-1z" fill="#cfe0de"/>
<path d="M18 37h1v1h-1z" fill="#b0c3cc"/>
<path d="M20 37h1v1h-1z" fill="#7c8db1"/>
<path d="M21 37h1v1h-1z" fill="#697da9"/>
<path d="M22 37h1v1h-1z" fill="#607aa3"/>
<path d="M0 38h1v1h-1z" fill="#2c538a"/>
<path d="M1 38h1v1h-1z" fill="#2d558b"/>
<path d="M2 38h1v1h-1z" fill="#2b5389"/>
<path d="M3 38h1v1h-1z" fill="#2b548a"/>
<path d="M4 38h1v1h-1z" fill="#2d578c"/>
<path d="M5 38h1v2h-1z" fill="#2d578b"/>
<path d="M7 38h1v1h-1z" fill="#2e5b8d"/>
<path d="M8 38h1v1h-1z" fill="#2d5a8d"/>
<path d="M12 38h1v1h-1z" fill="#6193b0"/>
<path d="M15 38h1v1h-1z" fill="#eef6ef"/>
<path d="M16 38h1v1h-1z" fill="#e8f0eb"/>
<path d="M17 38h1v1h-1z" fill="#d3e1e0"/>
<path d="M18 38h1v1h-1z" fill="#b2c4ce"/>
<path d="M19 38h1v1h-1z" fill="#9aa9c0"/>
<path d="M20 38h1v1h-1z" fill="#7e8eb2"/>
<path d="M21 38h1v1h-1z" fill="#6a7ea9"/>
<path d="M22 38h1v1h-1z" fill="#617aa3"/>
<path d="M23 38h1v1h-1z" fill="#5b789f"/>
<path d="M0 39h1v1h-1z" fill="#2d548b"/>
<path d="M1 39h1v1h-1z" fill="#2b5289"/>
<path d="M2 39h1v1h-1z" fill="#2d568c"/>
<path d="M3 39h1v1h-1z" fill="#2c548a"/>
<path d="M4 39h1v1h-1z" fill="#2d588c"/>
<path d="M6 39h1v1h-1z" fill="#2d588b"/>
<path d="M7 39h1v1h-1z" fill="#2d598c"/>
<path d="M8 39h1v1h-1z" fill="#2e5b8e"/>
<path d="M12 39h1v1h-1z" fill="#6394b0"/>
<path d="M13 39h1v1h-1z" fill="#93b7ca"/>
<path d="M14 39h1v1h-1z" fill="#cee1e3"/>
<path d="M15 39h1v1h-1z" fill="#ebf5f0"/>
<path d="M16 39h1v1h-1z" fill="#f0f4ef"/>
<path d="M17 39h1v1h-1z" fill="#dde5e6"/>
<path d="M18 39h1v1h-1z" fill="#c2ccd7"/>
<path d="M19 39h1v1h-1z" fill="#a2adc7"/>
<path d="M20 39h1v2h-1z" fill="#8796b6"/>
<path d="M21 39h1v2h-1z" fill="#7385ad"/>
<path d="M22 39h1v1h-1z" fill="#6578a3"/>
<path d="M23 39h1v1h-1z" fill="#65779f"/>
<path d="M0 40h1v1h-1z" fill="#2b5289"/>
<path d="M1 40h1v1h-1z" fill="#2b5389"/>
<path d="M2 40h1v1h-1z" fill="#2c558b"/>
<path d="M3 40h2v1h-2z" fill="#2c558a"/>
<path d="M5 40h2v1h-2z" fill="#2c568b"/>
<path d="M7 40h1v1h-1z" fill="#2c588b"/>
<path d="M8 40h1v1h-1z" fill="#2d598c"/>
<path d="M12 40h1v1h-1z" fill="#6898b0"/>
<path d="M13 40h1v1h-1z" fill="#94b9c7"/>
<path d="M14 40h1v1h-1z" fill="#cae1e1"/>
<path d="M15 40h1v1h-1z" fill="#eaf5f1"/>
<path d="M16 40h1v1h-1z" fill="#f0f2ef"/>
<path d="M17 40h1v1h-1z" fill="#dee2e6"/>
<path d="M18 40h1v1h-1z" fill="#c1cad7"/>
<path d="M19 40h1v1h-1z" fill="#a1acc7"/>
<path d="M22 40h1v1h-1z" fill="#6678a3"/>
<path d="M23 40h1v2h-1z" fill="#66779f"/>
<path d="M0 41h1v1h-1z" fill="#2c5289"/>
<path d="M1 41h1v1h-1z" fill="#2d558b"/>
<path d="M2 41h1v2h-1z" fill="#2c548a"/>
<path d="M3 41h1v1h-1z" fill="#2c568b"/>
<path d="M4 41h1v1h-1z" fill="#2c558a"/>
<path d="M5 41h1v1h-1z" fill="#2c578b"/>
<path d="M6 41h1v1h-1z" fill="#2c568a"/>
<path d="M7 41h1v1h-1z" fill="#2d588b"/>
<path d="M8 41h1v1h-1z" fill="#2c588b"/>
<path d="M12 41h1v2h-1z" fill="#6a99b0"/>
<path d="M13 41h1v1h-1z" fill="#95bac6"/>
<path d="M14 41h1v1h-1z" fill="#cbe1e1"/>
<path d="M15 41h1v1h-1z" fill="#eaf3f1"/>
<path d="M16 41h1v1h-1z" fill="#e7e8eb"/>
<path d="M17 41h1v1h-1z" fill="#d3d6e0"/>
<path d="M18 41h1v1h-1z" fill="#adb7cb"/>
<path d="M19 41h1v1h-1z" fill="#909fbc"/>
<path d="M20 41h1v1h-1z" fill="#7b8cb0"/>
<path d="M21 41h1v1h-1z" fill="#6d7fa9"/>
<path d="M22 41h1v1h-1z" fill="#6578a3"/>
<path d="M0 42h1v2h-1z" fill="#2d548b"/>
<path d="M1 42h1v1h-1z" fill="#2c548a"/>
<path d="M3 42h1v1h-1z" fill="#2c558b"/>
<path d="M4 42h1v1h-1z" fill="#2e588c"/>
<path d="M5 42h1v1h-1z" fill="#2c568a"/>
<path d="M6 42h1v2h-1z" fill="#2e598d"/>
<path d="M7 42h1v1h-1z" fill="#2d598c"/>
<path d="M8 42h1v1h-1z" fill="#2d5a8c"/>
<path d="M13 42h1v1h-1z" fill="#97bdc6"/>
<path d="M14 42h1v1h-1z" fill="#d1e0e3"/>
<path d="M15 42h1v1h-1z" fill="#eaf0f0"/>
<path d="M16 42h1v1h-1z" fill="#dcdfe7"/>
<path d="M17 42h1v1h-1z" fill="#c3c8d8"/>
<path d="M18 42h1v1h-1z" fill="#9ca9c1"/>
<path d="M19 42h1v1h-1z" fill="#8192b3"/>
<path d="M20 42h1v1h-1z" fill="#6e83ac"/>
<path d="M21 42h1v1h-1z" fill="#6579a7"/>
<path d="M22 42h1v1h-1z" fill="#6075a2"/>
<path d="M23 42h1v1h-1z" fill="#61749e"/>
<path d="M1 43h1v2h-1z" fill="#2c538a"/>
<path d="M2 43h1v1h-1z" fill="#2c558b"/>
<path d="M3 43h1v1h-1z" fill="#2d568b"/>
<path d="M4 43h1v1h-1z" fill="#2e588d"/>
<path d="M5 43h1v1h-1z" fill="#2c578b"/>
<path d="M7 43h2v1h-2z" fill="#2d5a8d"/>
<path d="M9 43h1v1h-1z" fill="#2e5d90"/>
<path d="M11 43h1v1h-1z" fill="#42729c"/>
<path d="M12 43h1v1h-1z" fill="#6d9bb1"/>
<path d="M13 43h1v1h-1z" fill="#99bec6"/>
<path d="M14 43h1v1h-1z" fill="#d2e0e3"/>
<path d="M15 43h1v1h-1z" fill="#e9edef"/>
<path d="M16 43h1v1h-1z" fill="#d4d8e3"/>
<path d="M17 43h1v1h-1z" fill="#b5bccf"/>
<path d="M18 43h1v1h-1z" fill="#8797b6"/>
<path d="M19 43h1v1h-1z" fill="#6d80a6"/>
<path d="M20 43h1v1h-1z" fill="#5e74a2"/>
<path d="M21 43h1v1h-1z" fill="#5a709e"/>
<path d="M22 43h1v1h-1z" fill="#586f99"/>
<path d="M23 43h1v1h-1z" fill="#576e94"/>
<path d="M0 44h1v1h-1z" fill="#2c538a"/>
<path d="M2 44h1v1h-1z" fill="#2b5389"/>
<path d="M3 44h1v1h-1z" fill="#2c548a"/>
<path d="M4 44h1v3h-1z" fill="#2c558a"/>
<path d="M5 44h1v1h-1z" fill="#2d588c"/>
<path d="M6 44h1v1h-1z" fill="#2c578b"/>
<path d="M7 44h2v1h-2z" fill="#2c588b"/>
<path d="M9 44h1v1h-1z" fill="#2f5e91"/>
<path d="M10 44h1v5h-1z" fill="#30618f"/>
<path d="M11 44h1v1h-1z" fill="#45739e"/>
<path d="M12 44h1v1h-1z" fill="#75a1b5"/>
<path d="M13 44h1v1h-1z" fill="#9bc0c7"/>
<path d="M14 44h1v1h-1z" fill="#d1e1e4"/>
<path d="M15 44h1v1h-1z" fill="#e5e9ed"/>
<path d="M16 44h1v1h-1z" fill="#d0d3e1"/>
<path d="M17 44h1v1h-1z" fill="#acb4c9"/>
<path d="M18 44h1v1h-1z" fill="#818faf"/>
<path d="M19 44h1v1h-1z" fill="#667a9d"/>
<path d="M20 44h1v1h-1z" fill="#5b7199"/>
<path d="M21 44h1v1h-1z" fill="#566f97"/>
<path d="M22 44h1v1h-1z" fill="#546d93"/>
<path d="M23 44h1v1h-1z" fill="#566d8f"/>
<path d="M0 45h1v1h-1z" fill="#2d548b"/>
<path d="M1 45h2v1h-2z" fill="#2d558b"/>
<path d="M3 45h1v1h-1z" fill="#2c558a"/>
<path d="M5 45h1v1h-1z" fill="#2c578b"/>
<path d="M6 45h1v1h-1z" fill="#2d588c"/>
<path d="M7 45h1v1h-1z" fill="#2c588b"/>
<path d="M8 45h1v1h-1z" fill="#2d5a8c"/>
<path d="M9 45h1v4h-1z" fill="#2f5f92"/>
<path d="M11 45h1v1h-1z" fill="#47759f"/>
<path d="M12 45h1v1h-1z" fill="#7aa4b8"/>
<path d="M13 45h1v1h-1z" fill="#a0c3ca"/>
<path d="M14 45h1v1h-1z" fill="#d3e4e6"/>
<path d="M15 45h1v1h-1z" fill="#e4e9ec"/>
<path d="M16 45h1v1h-1z" fill="#ced2e0"/>
<path d="M17 45h1v1h-1z" fill="#a8b0c7"/>
<path d="M18 45h1v1h-1z" fill="#7f8eae"/>
<path d="M19 45h1v1h-1z" fill="#65799c"/>
<path d="M20 45h1v1h-1z" fill="#5c7299"/>
<path d="M21 45h1v1h-1z" fill="#577097"/>
<path d="M22 45h1v1h-1z" fill="#556e94"/>
<path d="M23 45h1v1h-1z" fill="#576e91"/>
<path d="M0 46h1v1h-1z" fill="#2b5289"/>
<path d="M1 46h2v1h-2z" fill="#2d568c"/>
<path d="M3 46h1v1h-1z" fill="#2d568b"/>
<path d="M5 46h1v1h-1z" fill="#2e598d"/>
<path d="M6 46h1v2h-1z" fill="#2c578b"/>
<path d="M7 46h1v1h-1z" fill="#2d588c"/>
<path d="M8 46h1v1h-1z" fill="#2c588b"/>
<path d="M11 46h1v1h-1z" fill="#4b79a3"/>
<path d="M12 46h1v1h-1z" fill="#7ea6bd"/>
<path d="M13 46h1v1h-1z" fill="#abcad3"/>
<path d="M14 46h1v1h-1z" fill="#dbeceb"/>
<path d="M15 46h1v1h-1z" fill="#e4edee"/>
<path d="M16 46h1v1h-1z" fill="#cad2de"/>
<path d="M17 46h1v1h-1z" fill="#a3adc6"/>
<path d="M18 46h1v1h-1z" fill="#7b8aad"/>
<path d="M19 46h1v1h-1z" fill="#667a9f"/>
<path d="M20 46h2v1h-2z" fill="#61789e"/>
<path d="M22 46h1v1h-1z" fill="#5c72a0"/>
<path d="M23 46h1v1h-1z" fill="#5a72a0"/>
<path d="M0 47h1v1h-1z" fill="#2c538a"/>
<path d="M1 47h1v1h-1z" fill="#2c548a"/>
<path d="M2 47h1v1h-1z" fill="#2c558b"/>
<path d="M3 47h1v1h-1z" fill="#2c548a"/>
<path d="M4 47h1v1h-1z" fill="#2d568b"/>
<path d="M5 47h1v1h-1z" fill="#2c558a"/>
<path d="M7 47h1v1h-1z" fill="#2c578b"/>
<path d="M8 47h1v1h-1z" fill="#2d598c"/>
<path d="M11 47h1v2h-1z" fill="#4c7aa4"/>
<path d="M12 47h1v1h-1z" fill="#83a7c0"/>
<path d="M13 47h1v1h-1z" fill="#b2cdd7"/>
<path d="M14 47h1v3h-1z" fill="#deefed"/>
<path d="M15 47h1v1h-1z" fill="#e4eeed"/>
<path d="M16 47h1v1h-1z" fill="#c5d0dc"/>
<path d="M17 47h1v1h-1z" fill="#9ea9c3"/>
<path d="M18 47h1v1h-1z" fill="#7988ac"/>
<path d="M19 47h1v1h-1z" fill="#65799f"/>
<path d="M20 47h1v1h-1z" fill="#62789f"/>
<path d="M21 47h1v1h-1z" fill="#62799f"/>
<path d="M22 47h1v1h-1z" fill="#5d73a2"/>
<path d="M23 47h1v1h-1z" fill="#5b73a2"/>
<path d="M0 48h1v1h-1z" fill="#2b5189"/>
<path d="M1 48h1v1h-1z" fill="#2b5289"/>
<path d="M2 48h1v2h-1z" fill="#2c548a"/>
<path d="M3 48h1v1h-1z" fill="#2c558a"/>
<path d="M4 48h1v1h-1z" fill="#2d578b"/>
<path d="M5 48h1v1h-1z" fill="#2d578c"/>
<path d="M6 48h1v1h-1z" fill="#2d598d"/>
<path d="M7 48h1v1h-1z" fill="#2d5a8d"/>
<path d="M8 48h1v3h-1z" fill="#2e5b8d"/>
<path d="M12 48h1v1h-1z" fill="#8ba9c3"/>
<path d="M13 48h1v1h-1z" fill="#b9cbd9"/>
<path d="M15 48h1v1h-1z" fill="#e3eeeb"/>
<path d="M16 48h1v1h-1z" fill="#bdc9d5"/>
<path d="M17 48h1v1h-1z" fill="#98a4c0"/>
<path d="M18 48h1v1h-1z" fill="#6f7fa7"/>
<path d="M19 48h1v1h-1z" fill="#5f709f"/>
<path d="M20 48h1v1h-1z" fill="#61759f"/>
<path d="M21 48h1v1h-1z" fill="#5e759f"/>
<path d="M22 48h1v1h-1z" fill="#5c739e"/>
<path d="M23 48h1v1h-1z" fill="#5b769e"/>
<path d="M0 49h1v3h-1z" fill="#2d548b"/>
<path d="M1 49h1v1h-1z" fill="#2c538a"/>
<path d="M3 49h1v2h-1z" fill="#2d578c"/>
<path d="M4 49h1v2h-1z" fill="#2c558a"/>
<path d="M5 49h1v1h-1z" fill="#2d588c"/>
<path d="M6 49h1v1h-1z" fill="#2d598c"/>
<path d="M7 49h1v1h-1z" fill="#2c578b"/>
<path d="M9 49h1v1h-1z" fill="#306093"/>
<path d="M10 49h1v1h-1z" fill="#326391"/>
<path d="M11 49h1v1h-1z" fill="#4f7da5"/>
<path d="M12 49h1v1h-1z" fill="#90adc7"/>
<path d="M13 49h1v1h-1z" fill="#becfdd"/>
<path d="M15 49h1v1h-1z" fill="#e1ece9"/>
<path d="M16 49h1v1h-1z" fill="#b5c4d1"/>
<path d="M17 49h1v1h-1z" fill="#919fbc"/>
<path d="M18 49h1v1h-1z" fill="#6d7da5"/>
<path d="M19 49h1v1h-1z" fill="#5e6f9e"/>
<path d="M20 49h1v1h-1z" fill="#61749f"/>
<path d="M21 49h1v1h-1z" fill="#5f759f"/>
<path d="M22 49h1v1h-1z" fill="#5d749e"/>
<path d="M23 49h1v1h-1z" fill="#5c779e"/>
<path d="M1 50h1v2h-1z" fill="#2c548b"/>
<path d="M2 50h1v1h-1z" fill="#2d568b"/>
<path d="M5 50h1v1h-1z" fill="#2d578c"/>
<path d="M6 50h1v1h-1z" fill="#2d588c"/>
<path d="M7 50h1v1h-1z" fill="#2e5a8d"/>
<path d="M9 50h1v1h-1z" fill="#336397"/>
<path d="M10 50h1v1h-1z" fill="#386995"/>
<path d="M11 50h1v1h-1z" fill="#5784a7"/>
<path d="M12 50h1v1h-1z" fill="#96b7cf"/>
<path d="M13 50h1v1h-1z" fill="#c3d7e5"/>
<path d="M14 50h1v2h-1z" fill="#e0efef"/>
<path d="M15 50h1v1h-1z" fill="#dae5e7"/>
<path d="M16 50h1v1h-1z" fill="#acbbcb"/>
<path d="M17 50h1v1h-1z" fill="#8998b5"/>
<path d="M18 50h1v1h-1z" fill="#6a79a0"/>
<path d="M19 50h1v1h-1z" fill="#5b6b9b"/>
<path d="M20 50h1v1h-1z" fill="#62709f"/>
<path d="M21 50h1v1h-1z" fill="#64759f"/>
<path d="M22 50h1v1h-1z" fill="#64789f"/>
<path d="M23 50h1v1h-1z" fill="#667f9f"/>
<path d="M2 51h1v1h-1z" fill="#2d568c"/>
<path d="M3 51h1v3h-1z" fill="#2d568b"/>
<path d="M4 51h1v2h-1z" fill="#2d578c"/>
<path d="M5 51h1v1h-1z" fill="#2c568b"/>
<path d="M6 51h1v1h-1z" fill="#2c568a"/>
<path d="M7 51h1v1h-1z" fill="#2c588b"/>
<path d="M8 51h1v1h-1z" fill="#2d598c"/>
<path d="M9 51h1v3h-1z" fill="#346498"/>
<path d="M10 51h1v1h-1z" fill="#3a6b97"/>
<path d="M11 51h1v1h-1z" fill="#5a87a8"/>
<path d="M12 51h1v1h-1z" fill="#98bbd2"/>
<path d="M13 51h1v1h-1z" fill="#c5dbe8"/>
<path d="M15 51h1v1h-1z" fill="#d8e3e6"/>
<path d="M16 51h1v1h-1z" fill="#a8b8c9"/>
<path d="M17 51h1v1h-1z" fill="#8595b3"/>
<path d="M18 51h1v2h-1z" fill="#69799f"/>
<path d="M19 51h1v1h-1z" fill="#5b6b9a"/>
<path d="M20 51h1v1h-1z" fill="#606f9d"/>
<path d="M21 51h1v1h-1z" fill="#63739e"/>
<path d="M22 51h1v1h-1z" fill="#64779e"/>
<path d="M23 51h1v1h-1z" fill="#667e9e"/>
<path d="M0 52h1v1h-1z" fill="#2b5289"/>
<path d="M1 52h1v1h-1z" fill="#2d558b"/>
<path d="M2 52h1v2h-1z" fill="#2c558b"/>
<path d="M5 52h2v1h-2z" fill="#2d588c"/>
<path d="M7 52h1v2h-1z" fill="#2c578b"/>
<path d="M8 52h1v1h-1z" fill="#2e5b8d"/>
<path d="M10 52h1v1h-1z" fill="#3e6e99"/>
<path d="M11 52h1v1h-1z" fill="#5f8bab"/>
<path d="M12 52h1v1h-1z" fill="#9abed2"/>
<path d="M13 52h1v1h-1z" fill="#c7dde8"/>
<path d="M14 52h1v1h-1z" fill="#e1eeee"/>
<path d="M15 52h1v1h-1z" fill="#d8e2e5"/>
<path d="M16 52h1v1h-1z" fill="#a8b7c8"/>
<path d="M17 52h1v1h-1z" fill="#8494b1"/>
<path d="M19 52h1v1h-1z" fill="#5a6b9a"/>
<path d="M20 52h1v1h-1z" fill="#546691"/>
<path d="M21 52h1v1h-1z" fill="#576a95"/>
<path d="M22 52h1v1h-1z" fill="#5b6e96"/>
<path d="M23 52h1v1h-1z" fill="#5c7295"/>
<path d="M0 53h1v1h-1z" fill="#2d548b"/>
<path d="M1 53h1v1h-1z" fill="#2c548a"/>
<path d="M4 53h1v1h-1z" fill="#2c558a"/>
<path d="M5 53h1v1h-1z" fill="#2d588c"/>
<path d="M6 53h1v1h-1z" fill="#2c578b"/>
<path d="M8 53h1v1h-1z" fill="#2d598c"/>
<path d="M10 53h1v1h-1z" fill="#46779e"/>
<path d="M11 53h1v1h-1z" fill="#6a95b1"/>
<path d="M12 53h1v1h-1z" fill="#a1c4d3"/>
<path d="M13 53h1v1h-1z" fill="#cbe1e6"/>
<path d="M14 53h1v1h-1z" fill="#e4eded"/>
<path d="M15 53h1v1h-1z" fill="#d8dee1"/>
<path d="M16 53h1v1h-1z" fill="#a6b4c4"/>
<path d="M17 53h1v1h-1z" fill="#8191ae"/>
<path d="M18 53h1v1h-1z" fill="#667a9d"/>
<path d="M19 53h1v1h-1z" fill="#556896"/>
<path d="M20 53h1v2h-1z" fill="#4f6892"/>
<path d="M21 53h1v2h-1z" fill="#526b93"/>
<path d="M22 53h1v1h-1z" fill="#556e94"/>
<path d="M23 53h1v1h-1z" fill="#577194"/>
<path d="M0 54h1v1h-1z" fill="#2c548b"/>
<path d="M1 54h1v1h-1z" fill="#2c5389"/>
<path d="M2 54h1v1h-1z" fill="#2d568b"/>
<path d="M3 54h1v1h-1z" fill="#2d578c"/>
<path d="M4 54h1v1h-1z" fill="#2d568b"/>
<path d="M5 54h1v1h-1z" fill="#2c578b"/>
<path d="M6 54h1v1h-1z" fill="#2d588c"/>
<path d="M7 54h1v1h-1z" fill="#2d5a8d"/>
<path d="M8 54h1v1h-1z" fill="#2e5b8d"/>
<path d="M9 54h1v1h-1z" fill="#356598"/>
<path d="M10 54h1v1h-1z" fill="#4c7ba2"/>
<path d="M11 54h1v1h-1z" fill="#729bb6"/>
<path d="M12 54h1v1h-1z" fill="#a7c9d5"/>
<path d="M13 54h1v1h-1z" fill="#cfe5e6"/>
<path d="M14 54h1v1h-1z" fill="#e4ebeb"/>
<path d="M15 54h1v1h-1z" fill="#d5dbdf"/>
<path d="M16 54h1v1h-1z" fill="#a4b1c2"/>
<path d="M17 54h1v1h-1z" fill="#7f8fab"/>
<path d="M18 54h1v1h-1z" fill="#657a9d"/>
<path d="M19 54h1v1h-1z" fill="#546996"/>
<path d="M22 54h1v1h-1z" fill="#546e94"/>
<path d="M23 54h1v1h-1z" fill="#567195"/>
<path d="M0 55h1v1h-1z" fill="#2c538a"/>
<path d="M1 55h1v1h-1z" fill="#2c548b"/>
<path d="M2 55h1v1h-1z" fill="#2b5389"/>
<path d="M3 55h1v1h-1z" fill="#2c548a"/>
<path d="M4 55h1v1h-1z" fill="#2c568a"/>
<path d="M5 55h1v1h-1z" fill="#2d588c"/>
<path d="M6 55h1v1h-1z" fill="#2c578b"/>
<path d="M7 55h1v2h-1z" fill="#2d598c"/>
<path d="M8 55h1v1h-1z" fill="#2c588b"/>
<path d="M9 55h1v1h-1z" fill="#376899"/>
<path d="M10 55h1v1h-1z" fill="#527fa6"/>
<path d="M11 55h1v1h-1z" fill="#7a9fb9"/>
<path d="M12 55h1v1h-1z" fill="#b0d0d8"/>
<path d="M13 55h1v1h-1z" fill="#d5eae6"/>
<path d="M14 55h1v1h-1z" fill="#e0e9e7"/>
<path d="M15 55h1v1h-1z" fill="#cdd5dc"/>
<path d="M16 55h1v1h-1z" fill="#a0aebe"/>
<path d="M17 55h1v1h-1z" fill="#7c8da9"/>
<path d="M18 55h1v1h-1z" fill="#607a9b"/>
<path d="M19 55h1v1h-1z" fill="#516c95"/>
<path d="M20 55h1v2h-1z" fill="#506c95"/>
<path d="M21 55h1v2h-1z" fill="#516c94"/>
<path d="M22 55h1v2h-1z" fill="#566f93"/>
<path d="M23 55h1v1h-1z" fill="#547099"/>
<path d="M0 56h1v1h-1z" fill="#2b5189"/>
<path d="M1 56h1v1h-1z" fill="#2c538a"/>
<path d="M2 56h1v1h-1z" fill="#2d558b"/>
<path d="M3 56h1v1h-1z" fill="#2d568b"/>
<path d="M4 56h1v1h-1z" fill="#2d578c"/>
<path d="M5 56h1v1h-1z" fill="#2c568b"/>
<path d="M6 56h1v2h-1z" fill="#2d588c"/>
<path d="M8 56h1v1h-1z" fill="#2d5a8c"/>
<path d="M9 56h1v10h-1z" fill="#386999"/>
<path d="M10 56h1v1h-1z" fill="#5480a8"/>
<path d="M11 56h1v1h-1z" fill="#7da1bb"/>
<path d="M12 56h1v1h-1z" fill="#b4d2da"/>
<path d="M13 56h1v1h-1z" fill="#d7ece6"/>
<path d="M14 56h1v1h-1z" fill="#dfe8e6"/>
<path d="M15 56h1v1h-1z" fill="#cad3db"/>
<path d="M16 56h1v1h-1z" fill="#9eacbd"/>
<path d="M17 56h1v1h-1z" fill="#7b8ca8"/>
<path d="M18 56h1v1h-1z" fill="#5f7a9b"/>
<path d="M19 56h1v1h-1z" fill="#516d95"/>
<path d="M23 56h1v1h-1z" fill="#55719a"/>
<path d="M0 57h1v1h-1z" fill="#2b5289"/>
<path d="M1 57h1v1h-1z" fill="#2d558b"/>
<path d="M2 57h1v2h-1z" fill="#2c548a"/>
<path d="M3 57h1v3h-1z" fill="#2d578c"/>
<path d="M4 57h1v1h-1z" fill="#2e588c"/>
<path d="M5 57h1v1h-1z" fill="#2c568a"/>
<path d="M7 57h1v1h-1z" fill="#2e5a8d"/>
<path d="M8 57h1v2h-1z" fill="#2e5b8e"/>
<path d="M10 57h1v1h-1z" fill="#5580aa"/>
<path d="M11 57h1v1h-1z" fill="#7fa3be"/>
<path d="M12 57h1v1h-1z" fill="#b8d5dc"/>
<path d="M13 57h1v1h-1z" fill="#daeee9"/>
<path d="M14 57h1v1h-1z" fill="#dee8e7"/>
<path d="M15 57h1v1h-1z" fill="#c8d2db"/>
<path d="M16 57h1v1h-1z" fill="#9dabbe"/>
<path d="M17 57h1v1h-1z" fill="#7c8da9"/>
<path d="M18 57h1v1h-1z" fill="#607a9c"/>
<path d="M19 57h1v1h-1z" fill="#526d96"/>
<path d="M20 57h1v1h-1z" fill="#526c96"/>
<path d="M21 57h1v1h-1z" fill="#536d96"/>
<path d="M22 57h1v1h-1z" fill="#587295"/>
<path d="M23 57h1v1h-1z" fill="#5e7a99"/>
<path d="M0 58h2v1h-2z" fill="#2c538a"/>
<path d="M4 58h1v1h-1z" fill="#2c558a"/>
<path d="M5 58h1v1h-1z" fill="#2d588c"/>
<path d="M6 58h1v1h-1z" fill="#2c578b"/>
<path d="M7 58h1v2h-1z" fill="#2d598c"/>
<path d="M10 58h1v1h-1z" fill="#5982ae"/>
<path d="M11 58h1v1h-1z" fill="#86a9c4"/>
<path d="M12 58h1v1h-1z" fill="#c3dce3"/>
<path d="M13 58h1v1h-1z" fill="#e0f4f0"/>
<path d="M14 58h1v1h-1z" fill="#dce8e9"/>
<path d="M15 58h1v1h-1z" fill="#c5d1dc"/>
<path d="M16 58h1v1h-1z" fill="#9ba8bf"/>
<path d="M17 58h1v1h-1z" fill="#7e8ead"/>
<path d="M18 58h1v1h-1z" fill="#657da0"/>
<path d="M19 58h1v1h-1z" fill="#5a719c"/>
<path d="M20 58h1v1h-1z" fill="#5c709e"/>
<path d="M21 58h1v1h-1z" fill="#6072a1"/>
<path d="M22 58h1v1h-1z" fill="#6285a5"/>
<path d="M23 58h1v1h-1z" fill="#6489a6"/>
<path d="M0 59h1v1h-1z" fill="#2b5289"/>
<path d="M1 59h1v1h-1z" fill="#2d558b"/>
<path d="M2 59h1v1h-1z" fill="#2c558b"/>
<path d="M4 59h1v1h-1z" fill="#2d578c"/>
<path d="M5 59h1v1h-1z" fill="#2c568b"/>
<path d="M6 59h1v1h-1z" fill="#2e5a8d"/>
<path d="M8 59h1v2h-1z" fill="#2c588b"/>
<path d="M10 59h1v2h-1z" fill="#5a82b0"/>
<path d="M11 59h1v2h-1z" fill="#88abc7"/>
<path d="M12 59h1v2h-1z" fill="#c7dfe5"/>
<path d="M13 59h1v2h-1z" fill="#e3f6f3"/>
<path d="M14 59h1v2h-1z" fill="#dbe8ea"/>
<path d="M15 59h1v2h-1z" fill="#c3d0dc"/>
<path d="M16 59h1v1h-1z" fill="#9aa7c0"/>
<path d="M17 59h1v1h-1z" fill="#7f8fae"/>
<path d="M18 59h1v1h-1z" fill="#667da1"/>
<path d="M19 59h1v2h-1z" fill="#5b719d"/>
<path d="M20 59h1v2h-1z" fill="#5e709f"/>
<path d="M21 59h1v1h-1z" fill="#6273a3"/>
<path d="M22 59h1v2h-1z" fill="#6488a7"/>
<path d="M23 59h1v2h-1z" fill="#658ba8"/>
<path d="M0 60h1v1h-1z" fill="#2b5189"/>
<path d="M1 60h1v1h-1z" fill="#2c548a"/>
<path d="M2 60h3v1h-3z" fill="#2c558a"/>
<path d="M5 60h1v1h-1z" fill="#2c578b"/>
<path d="M6 60h1v1h-1z" fill="#2d578b"/>
<path d="M7 60h1v1h-1z" fill="#2e5a8d"/>
<path d="M16 60h1v1h-1z" fill="#97a5bf"/>
<path d="M17 60h1v1h-1z" fill="#7c8dad"/>
<path d="M18 60h1v1h-1z" fill="#667ca1"/>
<path d="M21 60h1v1h-1z" fill="#6273a2"/>
<path d="M0 61h1v1h-1z" fill="#2d548b"/>
<path d="M1 61h1v1h-1z" fill="#2d558b"/>
<path d="M2 61h1v1h-1z" fill="#2b538a"/>
<path d="M3 61h2v1h-2z" fill="#2d578c"/>
<path d="M5 61h1v1h-1z" fill="#2e598d"/>
<path d="M6 61h1v2h-1z" fill="#2c578b"/>
<path d="M7 61h1v1h-1z" fill="#2d588c"/>
<path d="M8 61h1v2h-1z" fill="#2d598c"/>
<path d="M10 61h1v1h-1z" fill="#5c86af"/>
<path d="M11 61h1v1h-1z" fill="#8baec7"/>
<path d="M12 61h1v1h-1z" fill="#c9e0e7"/>
<path d="M13 61h1v1h-1z" fill="#e6f6f5"/>
<path d="M14 61h1v1h-1z" fill="#dbe7ea"/>
<path d="M15 61h1v1h-1z" fill="#c1cedb"/>
<path d="M16 61h1v1h-1z" fill="#8fa1be"/>
<path d="M17 61h1v1h-1z" fill="#7587a9"/>
<path d="M18 61h1v1h-1z" fill="#64799f"/>
<path d="M19 61h1v1h-1z" fill="#5d739a"/>
<path d="M20 61h1v1h-1z" fill="#62749c"/>
<path d="M21 61h1v1h-1z" fill="#64769d"/>
<path d="M22 61h1v1h-1z" fill="#6386a6"/>
<path d="M23 61h1v1h-1z" fill="#6389a7"/>
<path d="M0 62h1v2h-1z" fill="#2d558b"/>
<path d="M1 62h1v1h-1z" fill="#2c548b"/>
<path d="M2 62h1v2h-1z" fill="#2c548a"/>
<path d="M3 62h1v1h-1z" fill="#2c558b"/>
<path d="M4 62h1v1h-1z" fill="#2c568b"/>
<path d="M5 62h1v1h-1z" fill="#2c568a"/>
<path d="M7 62h1v2h-1z" fill="#2e5a8d"/>
<path d="M10 62h1v1h-1z" fill="#6191ae"/>
<path d="M11 62h1v1h-1z" fill="#91b7c9"/>
<path d="M12 62h1v1h-1z" fill="#cee2ee"/>
<path d="M13 62h1v1h-1z" fill="#ecf5f9"/>
<path d="M14 62h1v1h-1z" fill="#dce5ec"/>
<path d="M15 62h1v1h-1z" fill="#bccbd9"/>
<path d="M16 62h1v1h-1z" fill="#8a9eba"/>
<path d="M17 62h1v1h-1z" fill="#6e83a4"/>
<path d="M18 62h1v1h-1z" fill="#62779d"/>
<path d="M19 62h1v1h-1z" fill="#5c7399"/>
<path d="M20 62h1v1h-1z" fill="#61749b"/>
<path d="M21 62h1v1h-1z" fill="#64769c"/>
<path d="M22 62h1v1h-1z" fill="#597aa2"/>
<path d="M23 62h1v1h-1z" fill="#547aa4"/>
<path d="M1 63h1v1h-1z" fill="#2c538a"/>
<path d="M3 63h1v1h-1z" fill="#2c568b"/>
<path d="M4 63h1v1h-1z" fill="#2c558a"/>
<path d="M5 63h1v1h-1z" fill="#2c578b"/>
<path d="M6 63h1v1h-1z" fill="#2e5a8d"/>
<path d="M8 63h1v3h-1z" fill="#2e5b8d"/>
<path d="M10 63h1v3h-1z" fill="#6395ad"/>
<path d="M11 63h1v3h-1z" fill="#94bac9"/>
<path d="M12 63h1v1h-1z" fill="#d0e3ef"/>
<path d="M13 63h1v1h-1z" fill="#eff6fb"/>
<path d="M14 63h1v3h-1z" fill="#dce4ec"/>
<path d="M15 63h1v3h-1z" fill="#bac9d8"/>
<path d="M16 63h1v1h-1z" fill="#869ab4"/>
<path d="M17 63h1v1h-1z" fill="#657e9c"/>
<path d="M18 63h1v1h-1z" fill="#587493"/>
<path d="M19 63h1v1h-1z" fill="#577090"/>
<path d="M20 63h1v1h-1z" fill="#5c7498"/>
<path d="M21 63h1v3h-1z" fill="#61799b"/>
<path d="M22 63h1v1h-1z" fill="#5979a1"/>
<path d="M23 63h1v1h-1z" fill="#5479a2"/>
<path d="M0 64h1v1h-1z" fill="#2c538a"/>
<path d="M1 64h1v1h-1z" fill="#2d558b"/>
<path d="M2 64h1v1h-1z" fill="#2d568c"/>
<path d="M3 64h1v1h-1z" fill="#2d568b"/>
<path d="M4 64h1v1h-1z" fill="#2d578c"/>
<path d="M5 64h1v1h-1z" fill="#2c568a"/>
<path d="M6 64h2v1h-2z" fill="#2d598c"/>
<path d="M12 64h1v1h-1z" fill="#d0e5eb"/>
<path d="M13 64h1v1h-1z" fill="#eef9fa"/>
<path d="M16 64h1v2h-1z" fill="#8499b1"/>
<path d="M17 64h1v2h-1z" fill="#617c98"/>
<path d="M18 64h1v2h-1z" fill="#567391"/>
<path d="M19 64h1v2h-1z" fill="#56708f"/>
<path d="M20 64h1v2h-1z" fill="#5b7497"/>
<path d="M22 64h1v1h-1z" fill="#637c9d"/>
<path d="M23 64h1v1h-1z" fill="#647c9d"/>
<path d="M0 65h1v1h-1z" fill="#2c548a"/>
<path d="M1 65h1v1h-1z" fill="#2c538a"/>
<path d="M2 65h1v1h-1z" fill="#2b5389"/>
<path d="M3 65h1v1h-1z" fill="#2d578c"/>
<path d="M4 65h1v1h-1z" fill="#2c558a"/>
<path d="M5 65h1v1h-1z" fill="#2d578b"/>
<path d="M6 65h1v1h-1z" fill="#2d588b"/>
<path d="M7 65h1v1h-1z" fill="#2d588c"/>
<path d="M12 65h1v1h-1z" fill="#d0e5ea"/>
<path d="M13 65h1v1h-1z" fill="#eefafa"/>
<path d="M22 65h1v1h-1z" fill="#647d9d"/>
<path d="M23 65h1v1h-1z" fill="#667d9c"/>
</g>
<g class="px" transform="translate(873.1,53.2) scale(18.4)">
<path d="M0 0h16v17h-16z" fill="#552498"/>
<path d="M16 0h1v10h-1z" fill="#9d548c"/>
<path d="M17 0h1v3h-1z" fill="#ab5d8f"/>
<path d="M18 0h1v1h-1z" fill="#ae5b8b"/>
<path d="M19 0h1v1h-1z" fill="#a5508a"/>
<path d="M20 0h1v1h-1z" fill="#923f7d"/>
<path d="M21 0h1v1h-1z" fill="#853674"/>
<path d="M22 0h2v2h-2z" fill="#7f3270"/>
<path d="M18 1h1v1h-1z" fill="#af5c8c"/>
<path d="M19 1h1v1h-1z" fill="#a6528a"/>
<path d="M20 1h1v1h-1z" fill="#94417e"/>
<path d="M21 1h1v1h-1z" fill="#863674"/>
<path d="M18 2h1v1h-1z" fill="#b15f8f"/>
<path d="M19 2h1v1h-1z" fill="#aa568c"/>
<path d="M20 2h1v1h-1z" fill="#9c4883"/>
<path d="M21 2h1v1h-1z" fill="#8b3977"/>
<path d="M22 2h1v1h-1z" fill="#813472"/>
<path d="M23 2h1v1h-1z" fill="#803370"/>
<path d="M17 3h1v1h-1z" fill="#ac5e90"/>
<path d="M18 3h1v1h-1z" fill="#b36192"/>
<path d="M19 3h1v1h-1z" fill="#ad5b8e"/>
<path d="M20 3h1v1h-1z" fill="#9f4c85"/>
<path d="M21 3h1v1h-1z" fill="#93407c"/>
<path d="M22 3h1v1h-1z" fill="#8a3a78"/>
<path d="M23 3h1v1h-1z" fill="#863872"/>
<path d="M17 4h1v1h-1z" fill="#ad5f93"/>
<path d="M18 4h1v1h-1z" fill="#b56696"/>
<path d="M19 4h1v1h-1z" fill="#b26394"/>
<path d="M20 4h1v1h-1z" fill="#a5548a"/>
<path d="M21 4h1v1h-1z" fill="#9c4b83"/>
<path d="M22 4h1v1h-1z" fill="#94427e"/>
<path d="M23 4h1v1h-1z" fill="#90407b"/>
<path d="M17 5h1v5h-1z" fill="#ae6094"/>
<path d="M18 5h1v3h-1z" fill="#b66798"/>
<path d="M19 5h1v2h-1z" fill="#b46696"/>
<path d="M20 5h1v1h-1z" fill="#ac5b8d"/>
<path d="M21 5h1v1h-1z" fill="#a35387"/>
<path d="M22 5h1v1h-1z" fill="#9a4b83"/>
<path d="M23 5h1v1h-1z" fill="#974882"/>
<path d="M20 6h1v4h-1z" fill="#ae5c8e"/>
<path d="M21 6h1v4h-1z" fill="#a45588"/>
<path d="M22 6h1v4h-1z" fill="#9c4d84"/>
<path d="M23 6h1v4h-1z" fill="#994a83"/>
<path d="M19 7h1v1h-1z" fill="#b66796"/>
<path d="M18 8h1v3h-1z" fill="#bd3a49"/>
<path d="M19 8h1v1h-1z" fill="#bd6998"/>
<path d="M19 9h1v2h-1z" fill="#bd3a49"/>
<path d="M16 10h1v1h-1z" fill="#9e548c"/>
<path d="M17 10h1v1h-1z" fill="#ae6195"/>
<path d="M20 10h1v1h-1z" fill="#af5c8e"/>
<path d="M21 10h1v1h-1z" fill="#a55588"/>
<path d="M22 10h1v1h-1z" fill="#9d4e84"/>
<path d="M23 10h1v1h-1z" fill="#9a4b83"/>
<path d="M16 11h1v1h-1z" fill="#9f568e"/>
<path d="M17 11h1v1h-1z" fill="#b06496"/>
<path d="M18 11h1v1h-1z" fill="#b86596"/>
<path d="M19 11h1v1h-1z" fill="#b96193"/>
<path d="M20 11h1v1h-1z" fill="#af598d"/>
<path d="M21 11h1v1h-1z" fill="#a55388"/>
<path d="M22 11h1v1h-1z" fill="#9f4e85"/>
<path d="M23 11h1v1h-1z" fill="#9b4b83"/>
<path d="M16 12h1v1h-1z" fill="#a0568e"/>
<path d="M17 12h1v1h-1z" fill="#b06597"/>
<path d="M18 12h1v1h-1z" fill="#b76495"/>
<path d="M19 12h1v1h-1z" fill="#b25c91"/>
<path d="M20 12h1v1h-1z" fill="#a8538a"/>
<path d="M21 12h1v1h-1z" fill="#9f4c85"/>
<path d="M22 12h1v1h-1z" fill="#994881"/>
<path d="M23 12h1v1h-1z" fill="#95457f"/>
<path d="M16 13h2v2h-2z" fill="#bd3a49"/>
<path d="M18 13h1v1h-1z" fill="#b56394"/>
<path d="M19 13h1v1h-1z" fill="#ad588e"/>
<path d="M20 13h1v1h-1z" fill="#a04e86"/>
<path d="M21 13h1v1h-1z" fill="#944480"/>
<path d="M22 13h1v1h-1z" fill="#8d3f7b"/>
<path d="M23 13h1v1h-1z" fill="#8a3c79"/>
<path d="M18 14h1v5h-1z" fill="#b46293"/>
<path d="M19 14h1v1h-1z" fill="#a9568c"/>
<path d="M20 14h1v1h-1z" fill="#9b4b84"/>
<path d="M21 14h1v1h-1z" fill="#8c3e7a"/>
<path d="M22 14h1v1h-1z" fill="#843776"/>
<path d="M23 14h1v1h-1z" fill="#803373"/>
<path d="M16 15h1v6h-1z" fill="#a95b90"/>
<path d="M17 15h1v4h-1z" fill="#bd3a49"/>
<path d="M19 15h1v3h-1z" fill="#a8568c"/>
<path d="M20 15h1v1h-1z" fill="#9a4a82"/>
<path d="M21 15h1v1h-1z" fill="#8a3c79"/>
<path d="M22 15h1v1h-1z" fill="#823475"/>
<path d="M23 15h1v1h-1z" fill="#7c3070"/>
<path d="M20 16h1v1h-1z" fill="#984880"/>
<path d="M21 16h1v3h-1z" fill="#8a3a78"/>
<path d="M22 16h1v1h-1z" fill="#803373"/>
<path d="M23 16h1v1h-1z" fill="#782d6e"/>
<path d="M0 17h15v12h-15z" fill="#552498"/>
<path d="M15 17h1v4h-1z" fill="#8f4a86"/>
<path d="M20 17h1v2h-1z" fill="#98487f"/>
<path d="M22 17h1v2h-1z" fill="#803273"/>
<path d="M23 17h1v2h-1z" fill="#772c6d"/>
<path d="M19 18h1v1h-1z" fill="#a7558c"/>
<path d="M17 19h1v2h-1z" fill="#b46698"/>
<path d="M18 19h1v1h-1z" fill="#b36192"/>
<path d="M19 19h1v1h-1z" fill="#a4528a"/>
<path d="M20 19h1v1h-1z" fill="#96467e"/>
<path d="M21 19h1v1h-1z" fill="#883977"/>
<path d="M22 19h1v1h-1z" fill="#7e3172"/>
<path d="M23 19h1v1h-1z" fill="#762c6d"/>
<path d="M18 20h1v1h-1z" fill="#af5d8e"/>
<path d="M19 20h1v1h-1z" fill="#9f4d87"/>
<path d="M20 20h1v1h-1z" fill="#8e3f7a"/>
<path d="M21 20h1v1h-1z" fill="#833474"/>
<path d="M22 20h1v1h-1z" fill="#7a2e6f"/>
<path d="M23 20h1v1h-1z" fill="#752a6c"/>
<path d="M15 21h1v1h-1z" fill="#914c87"/>
<path d="M16 21h1v1h-1z" fill="#aa5d91"/>
<path d="M17 21h1v1h-1z" fill="#b46697"/>
<path d="M18 21h1v1h-1z" fill="#ad5b8d"/>
<path d="M19 21h1v1h-1z" fill="#9d4c86"/>
<path d="M20 21h1v1h-1z" fill="#8c3d79"/>
<path d="M21 21h1v1h-1z" fill="#803372"/>
<path d="M22 21h1v1h-1z" fill="#782d6e"/>
<path d="M23 21h1v1h-1z" fill="#752b6d"/>
<path d="M15 22h1v1h-1z" fill="#98518a"/>
<path d="M16 22h1v1h-1z" fill="#af6393"/>
<path d="M17 22h1v1h-1z" fill="#b56496"/>
<path d="M18 22h1v1h-1z" fill="#ac598c"/>
<path d="M19 22h1v2h-1z" fill="#9d4a84"/>
<path d="M20 22h1v2h-1z" fill="#8b3c79"/>
<path d="M21 22h1v1h-1z" fill="#7e3171"/>
<path d="M22 22h1v2h-1z" fill="#7a2e6f"/>
<path d="M23 22h1v1h-1z" fill="#792d6e"/>
<path d="M15 23h1v5h-1z" fill="#9a538b"/>
<path d="M16 23h1v5h-1z" fill="#bd3a49"/>
<path d="M17 23h1v5h-1z" fill="#b56495"/>
<path d="M18 23h1v4h-1z" fill="#ab598c"/>
<path d="M21 23h1v1h-1z" fill="#7d3170"/>
<path d="M23 23h1v10h-1z" fill="#7a2e6f"/>
<path d="M19 24h1v1h-1z" fill="#9e4b85"/>
<path d="M20 24h1v1h-1z" fill="#8d3e7b"/>
<path d="M21 24h1v1h-1z" fill="#7f3372"/>
<path d="M22 24h1v1h-1z" fill="#7b2f70"/>
<path d="M19 25h1v1h-1z" fill="#a14f87"/>
<path d="M20 25h1v1h-1z" fill="#954680"/>
<path d="M21 25h1v1h-1z" fill="#863a78"/>
<path d="M22 25h1v1h-1z" fill="#7e3172"/>
<path d="M19 26h1v1h-1z" fill="#a25088"/>
<path d="M20 26h1v1h-1z" fill="#974882"/>
<path d="M21 26h1v1h-1z" fill="#883c7a"/>
<path d="M22 26h1v3h-1z" fill="#7f3273"/>
<path d="M18 27h1v1h-1z" fill="#aa588c"/>
<path d="M19 27h1v1h-1z" fill="#a04f87"/>
<path d="M20 27h1v1h-1z" fill="#954681"/>
<path d="M21 27h1v1h-1z" fill="#873b79"/>
<path d="M15 28h1v1h-1z" fill="#9c558c"/>
<path d="M16 28h1v4h-1z" fill="#b26395"/>
<path d="M17 28h1v1h-1z" fill="#b36294"/>
<path d="M18 28h1v1h-1z" fill="#a5558a"/>
<path d="M19 28h1v1h-1z" fill="#9a4a84"/>
<path d="M20 28h1v1h-1z" fill="#8d3f7c"/>
<path d="M21 28h1v1h-1z" fill="#823575"/>
<path d="M0 29h14v8h-14z" fill="#552498"/>
<path d="M14 29h1v3h-1z" fill="#944d89"/>
<path d="M15 29h1v1h-1z" fill="#a15991"/>
<path d="M17 29h1v1h-1z" fill="#af5e90"/>
<path d="M18 29h1v1h-1z" fill="#a15088"/>
<path d="M19 29h1v1h-1z" fill="#944481"/>
<path d="M20 29h1v1h-1z" fill="#863876"/>
<path d="M21 29h1v1h-1z" fill="#7d3071"/>
<path d="M22 29h1v3h-1z" fill="#7e3072"/>
<path d="M15 30h1v2h-1z" fill="#a35b92"/>
<path d="M17 30h1v3h-1z" fill="#ad5c8f"/>
<path d="M18 30h1v2h-1z" fill="#a04f87"/>
<path d="M19 30h1v2h-1z" fill="#924380"/>
<path d="M20 30h1v3h-1z" fill="#843675"/>
<path d="M21 30h1v3h-1z" fill="#7c2f70"/>
<path d="M14 32h1v1h-1z" fill="#964e8a"/>
<path d="M15 32h1v1h-1z" fill="#a55c92"/>
<path d="M16 32h1v1h-1z" fill="#b36496"/>
<path d="M18 32h1v1h-1z" fill="#9f4e87"/>
<path d="M19 32h1v1h-1z" fill="#914380"/>
<path d="M22 32h1v1h-1z" fill="#7d3071"/>
<path d="M14 33h1v1h-1z" fill="#9f548d"/>
<path d="M15 33h1v1h-1z" fill="#ac5e93"/>
<path d="M16 33h1v1h-1z" fill="#b56597"/>
<path d="M17 33h1v5h-1z" fill="#ae5b8e"/>
<path d="M18 33h1v1h-1z" fill="#9e4d87"/>
<path d="M19 33h1v1h-1z" fill="#90417f"/>
<path d="M20 33h1v5h-1z" fill="#863877"/>
<path d="M21 33h1v8h-1z" fill="#7d3170"/>
<path d="M22 33h1v1h-1z" fill="#7b2e70"/>
<path d="M23 33h1v8h-1z" fill="#792e6e"/>
<path d="M14 34h1v1h-1z" fill="#a55a91"/>
<path d="M15 34h2v1h-2z" fill="#bd3a49"/>
<path d="M18 34h1v3h-1z" fill="#9d4c87"/>
<path d="M19 34h1v3h-1z" fill="#8f417f"/>
<path d="M22 34h1v7h-1z" fill="#7a2e6f"/>
<path d="M14 35h2v1h-2z" fill="#bd3a49"/>
<path d="M16 35h1v3h-1z" fill="#b36596"/>
<path d="M14 36h1v1h-1z" fill="#a85e95"/>
<path d="M15 36h1v1h-1z" fill="#bd3a49"/>
<path d="M0 37h13v13h-13z" fill="#552498"/>
<path d="M13 37h1v7h-1z" fill="#8e4a86"/>
<path d="M14 37h1v1h-1z" fill="#a85b91"/>
<path d="M15 37h1v6h-1z" fill="#b26395"/>
<path d="M18 37h1v1h-1z" fill="#9e4d88"/>
<path d="M19 37h1v1h-1z" fill="#90427f"/>
<path d="M14 38h1v5h-1z" fill="#a85a90"/>
<path d="M16 38h1v1h-1z" fill="#b26496"/>
<path d="M17 38h1v2h-1z" fill="#ac5a90"/>
<path d="M18 38h1v1h-1z" fill="#a04f89"/>
<path d="M19 38h1v1h-1z" fill="#93447f"/>
<path d="M20 38h1v2h-1z" fill="#883a79"/>
<path d="M16 39h1v1h-1z" fill="#b16194"/>
<path d="M18 39h1v1h-1z" fill="#a1508a"/>
<path d="M19 39h1v1h-1z" fill="#94457f"/>
<path d="M16 40h1v1h-1z" fill="#ae5e92"/>
<path d="M17 40h1v1h-1z" fill="#aa588e"/>
<path d="M18 40h1v1h-1z" fill="#9f4e89"/>
<path d="M19 40h1v1h-1z" fill="#92437e"/>
<path d="M20 40h1v1h-1z" fill="#873978"/>
<path d="M16 41h1v1h-1z" fill="#aa598e"/>
<path d="M17 41h1v1h-1z" fill="#a2518a"/>
<path d="M18 41h1v1h-1z" fill="#954682"/>
<path d="M19 41h1v1h-1z" fill="#893b79"/>
<path d="M20 41h1v1h-1z" fill="#813475"/>
<path d="M21 41h1v1h-1z" fill="#7b3070"/>
<path d="M22 41h1v1h-1z" fill="#792d6f"/>
<path d="M23 41h1v1h-1z" fill="#782d6e"/>
<path d="M16 42h1v1h-1z" fill="#a8578c"/>
<path d="M17 42h1v1h-1z" fill="#9e4d87"/>
<path d="M18 42h1v1h-1z" fill="#8b3c7b"/>
<path d="M19 42h1v1h-1z" fill="#7f3274"/>
<path d="M20 42h1v1h-1z" fill="#792e70"/>
<path d="M21 42h1v1h-1z" fill="#772b6e"/>
<path d="M22 42h1v2h-1z" fill="#762b6e"/>
<path d="M23 42h1v2h-1z" fill="#762c6d"/>
<path d="M14 43h1v1h-1z" fill="#a85a8f"/>
<path d="M15 43h1v1h-1z" fill="#b16294"/>
<path d="M16 43h1v1h-1z" fill="#a7568c"/>
<path d="M17 43h1v1h-1z" fill="#994884"/>
<path d="M18 43h1v1h-1z" fill="#883a79"/>
<path d="M19 43h1v1h-1z" fill="#7c3072"/>
<path d="M20 43h1v1h-1z" fill="#772c6e"/>
<path d="M21 43h1v1h-1z" fill="#762a6e"/>
<path d="M13 44h1v1h-1z" fill="#904b84"/>
<path d="M14 44h1v1h-1z" fill="#a95a8e"/>
<path d="M15 44h1v1h-1z" fill="#af6093"/>
<path d="M16 44h1v1h-1z" fill="#a4538a"/>
<path d="M17 44h1v1h-1z" fill="#954581"/>
<path d="M18 44h1v3h-1z" fill="#873978"/>
<path d="M19 44h1v3h-1z" fill="#7e3070"/>
<path d="M20 44h1v1h-1z" fill="#782b6d"/>
<path d="M21 44h1v1h-1z" fill="#772c6d"/>
<path d="M22 44h1v1h-1z" fill="#792c6e"/>
<path d="M23 44h1v1h-1z" fill="#7a2d6f"/>
<path d="M13 45h1v1h-1z" fill="#924d85"/>
<path d="M14 45h1v1h-1z" fill="#aa5b8e"/>
<path d="M15 45h1v4h-1z" fill="#ae5f92"/>
<path d="M16 45h1v2h-1z" fill="#a3528a"/>
<path d="M17 45h1v2h-1z" fill="#944580"/>
<path d="M20 45h1v9h-1z" fill="#782b6c"/>
<path d="M21 45h1v10h-1z" fill="#782c6d"/>
<path d="M22 45h1v10h-1z" fill="#7a2d6e"/>
<path d="M23 45h1v10h-1z" fill="#7b2e6f"/>
<path d="M13 46h1v1h-1z" fill="#9a528a"/>
<path d="M14 46h1v1h-1z" fill="#ac5e91"/>
<path d="M13 47h1v2h-1z" fill="#9c548b"/>
<path d="M14 47h1v8h-1z" fill="#ad5f92"/>
<path d="M16 47h1v1h-1z" fill="#a25189"/>
<path d="M17 47h1v1h-1z" fill="#92447f"/>
<path d="M18 47h1v1h-1z" fill="#853777"/>
<path d="M19 47h1v1h-1z" fill="#7d2f70"/>
<path d="M16 48h1v1h-1z" fill="#9e4f88"/>
<path d="M17 48h1v1h-1z" fill="#8e407c"/>
<path d="M18 48h1v1h-1z" fill="#813374"/>
<path d="M19 48h1v1h-1z" fill="#7b2d6e"/>
<path d="M13 49h1v1h-1z" fill="#9d558c"/>
<path d="M15 49h1v1h-1z" fill="#ad5e91"/>
<path d="M16 49h1v1h-1z" fill="#9c4d86"/>
<path d="M17 49h1v1h-1z" fill="#8a3d7a"/>
<path d="M18 49h1v5h-1z" fill="#7f3173"/>
<path d="M19 49h1v5h-1z" fill="#7a2c6e"/>
<path d="M0 50h12v8h-12z" fill="#552498"/>
<path d="M12 50h1v4h-1z" fill="#8e4b86"/>
<path d="M13 50h1v1h-1z" fill="#9f578e"/>
<path d="M15 50h1v1h-1z" fill="#a8598d"/>
<path d="M16 50h1v1h-1z" fill="#974883"/>
<path d="M17 50h1v1h-1z" fill="#853977"/>
<path d="M13 51h1v3h-1z" fill="#a0588f"/>
<path d="M15 51h1v3h-1z" fill="#a7588c"/>
<path d="M16 51h1v3h-1z" fill="#964782"/>
<path d="M17 51h1v4h-1z" fill="#833776"/>
<path d="M12 54h1v1h-1z" fill="#924e88"/>
<path d="M13 54h1v1h-1z" fill="#a35a90"/>
<path d="M15 54h1v1h-1z" fill="#a7578c"/>
<path d="M16 54h1v1h-1z" fill="#954681"/>
<path d="M18 54h1v1h-1z" fill="#7f3172"/>
<path d="M19 54h1v1h-1z" fill="#792c6e"/>
<path d="M20 54h1v1h-1z" fill="#772b6c"/>
<path d="M12 55h1v1h-1z" fill="#9c558e"/>
<path d="M13 55h1v1h-1z" fill="#aa5e93"/>
<path d="M14 55h1v11h-1z" fill="#ae5f92"/>
<path d="M15 55h1v1h-1z" fill="#a5558b"/>
<path d="M16 55h1v1h-1z" fill="#944580"/>
<path d="M17 55h1v6h-1z" fill="#843675"/>
<path d="M18 55h1v1h-1z" fill="#7d2f71"/>
<path d="M19 55h1v1h-1z" fill="#782a6c"/>
<path d="M20 55h1v1h-1z" fill="#76296b"/>
<path d="M21 55h1v11h-1z" fill="#782b6d"/>
<path d="M22 55h1v2h-1z" fill="#7b2e6f"/>
<path d="M23 55h1v2h-1z" fill="#7b2f6f"/>
<path d="M12 56h1v1h-1z" fill="#a05890"/>
<path d="M13 56h1v5h-1z" fill="#ad6094"/>
<path d="M15 56h1v5h-1z" fill="#a5548b"/>
<path d="M16 56h1v5h-1z" fill="#93447f"/>
<path d="M18 56h1v5h-1z" fill="#7d2f70"/>
<path d="M19 56h1v10h-1z" fill="#772a6c"/>
<path d="M20 56h1v10h-1z" fill="#75296b"/>
<path d="M12 57h1v1h-1z" fill="#a25990"/>
<path d="M22 57h1v1h-1z" fill="#7c2f70"/>
<path d="M23 57h1v1h-1z" fill="#7c3170"/>
<path d="M0 58h11v8h-11z" fill="#552498"/>
<path d="M11 58h1v3h-1z" fill="#a0578f"/>
<path d="M12 58h1v1h-1z" fill="#a95c91"/>
<path d="M22 58h1v1h-1z" fill="#7f3273"/>
<path d="M23 58h1v1h-1z" fill="#813575"/>
<path d="M12 59h1v7h-1z" fill="#ab5d91"/>
<path d="M22 59h1v2h-1z" fill="#803374"/>
<path d="M23 59h1v2h-1z" fill="#823776"/>
<path d="M11 61h1v1h-1z" fill="#552498"/>
<path d="M13 61h1v1h-1z" fill="#ae6194"/>
<path d="M15 61h1v1h-1z" fill="#a3538a"/>
<path d="M16 61h1v1h-1z" fill="#91427e"/>
<path d="M17 61h1v1h-1z" fill="#823473"/>
<path d="M18 61h1v1h-1z" fill="#7c2e6f"/>
<path d="M22 61h1v1h-1z" fill="#7f3273"/>
<path d="M23 61h1v1h-1z" fill="#813675"/>
<path d="M11 62h1v4h-1z" fill="#9e568e"/>
<path d="M13 62h1v1h-1z" fill="#b36296"/>
<path d="M15 62h1v1h-1z" fill="#9f5089"/>
<path d="M16 62h1v1h-1z" fill="#893d79"/>
<path d="M17 62h1v1h-1z" fill="#7c306f"/>
<path d="M18 62h1v1h-1z" fill="#792c6d"/>
<path d="M22 62h1v1h-1z" fill="#7c3071"/>
<path d="M23 62h1v1h-1z" fill="#7c3171"/>
<path d="M13 63h1v3h-1z" fill="#b46396"/>
<path d="M15 63h1v3h-1z" fill="#9d4f88"/>
<path d="M16 63h1v3h-1z" fill="#873b78"/>
<path d="M17 63h1v3h-1z" fill="#7a2e6d"/>
<path d="M18 63h1v3h-1z" fill="#782b6c"/>
<path d="M22 63h1v3h-1z" fill="#7b2f70"/>
<path d="M23 63h1v3h-1z" fill="#7b3070"/>
</g>
<g class="px" transform="translate(1730.1,53.2) scale(18.4)">
<path d="M0 0h1v1h-1z" fill="#802c99"/>
<path d="M1 0h1v1h-1z" fill="#7f2b99"/>
<path d="M2 0h1v2h-1z" fill="#7c2898"/>
<path d="M3 0h5v2h-5z" fill="#7b2798"/>
<path d="M8 0h1v3h-1z" fill="#7c2898"/>
<path d="M9 0h1v3h-1z" fill="#812d99"/>
<path d="M10 0h1v4h-1z" fill="#8b3999"/>
<path d="M11 0h1v4h-1z" fill="#8d3b99"/>
<path d="M12 0h1v1h-1z" fill="#85309b"/>
<path d="M13 0h1v4h-1z" fill="#9a4a9e"/>
<path d="M14 0h1v4h-1z" fill="#b9659d"/>
<path d="M15 0h1v11h-1z" fill="#c44370"/>
<path d="M16 0h1v11h-1z" fill="#c22d58"/>
<path d="M17 0h1v11h-1z" fill="#c0204c"/>
<path d="M18 0h1v11h-1z" fill="#bf1844"/>
<path d="M19 0h1v11h-1z" fill="#be103c"/>
<path d="M20 0h1v22h-1z" fill="#be0a36"/>
<path d="M21 0h1v11h-1z" fill="#be0633"/>
<path d="M22 0h1v11h-1z" fill="#bf0431"/>
<path d="M23 0h1v2h-1z" fill="#c00330"/>
<path d="M0 1h1v1h-1z" fill="#812d99"/>
<path d="M1 1h1v1h-1z" fill="#802c99"/>
<path d="M12 1h1v1h-1z" fill="#86329b"/>
<path d="M0 2h1v1h-1z" fill="#87339a"/>
<path d="M1 2h1v1h-1z" fill="#85319a"/>
<path d="M2 2h1v1h-1z" fill="#7d2998"/>
<path d="M3 2h1v1h-1z" fill="#7c2898"/>
<path d="M4 2h4v1h-4z" fill="#7b2798"/>
<path d="M12 2h1v1h-1z" fill="#8e3b9b"/>
<path d="M23 2h1v64h-1z" fill="#c0002f"/>
<path d="M0 3h1v1h-1z" fill="#88359a"/>
<path d="M1 3h1v1h-1z" fill="#87349a"/>
<path d="M2 3h1v1h-1z" fill="#812d99"/>
<path d="M3 3h1v1h-1z" fill="#7f2b99"/>
<path d="M4 3h1v1h-1z" fill="#7c2898"/>
<path d="M5 3h1v1h-1z" fill="#7b2798"/>
<path d="M6 3h1v1h-1z" fill="#7c2898"/>
<path d="M7 3h2v1h-2z" fill="#7d2998"/>
<path d="M9 3h1v1h-1z" fill="#822e99"/>
<path d="M12 3h1v1h-1z" fill="#903e9b"/>
<path d="M0 4h1v1h-1z" fill="#8b389a"/>
<path d="M1 4h1v2h-1z" fill="#8a379a"/>
<path d="M2 4h1v1h-1z" fill="#84309a"/>
<path d="M3 4h1v1h-1z" fill="#822e9a"/>
<path d="M4 4h1v1h-1z" fill="#7d2999"/>
<path d="M5 4h1v1h-1z" fill="#7c2899"/>
<path d="M6 4h1v1h-1z" fill="#812d9a"/>
<path d="M7 4h2v1h-2z" fill="#85319a"/>
<path d="M9 4h1v1h-1z" fill="#86329a"/>
<path d="M10 4h1v1h-1z" fill="#8b379a"/>
<path d="M11 4h1v2h-1z" fill="#8f3d9a"/>
<path d="M12 4h1v1h-1z" fill="#92419a"/>
<path d="M13 4h1v2h-1z" fill="#9c4d9c"/>
<path d="M14 4h1v2h-1z" fill="#a9579a"/>
<path d="M0 5h1v1h-1z" fill="#8a389a"/>
<path d="M2 5h1v1h-1z" fill="#85319a"/>
<path d="M3 5h1v1h-1z" fill="#84309a"/>
<path d="M4 5h2v1h-2z" fill="#7e2a99"/>
<path d="M6 5h1v1h-1z" fill="#832f9a"/>
<path d="M7 5h1v1h-1z" fill="#87339a"/>
<path d="M8 5h2v1h-2z" fill="#89359a"/>
<path d="M10 5h1v1h-1z" fill="#8c389a"/>
<path d="M12 5h1v2h-1z" fill="#93429a"/>
<path d="M0 6h3v1h-3z" fill="#87339a"/>
<path d="M3 6h1v1h-1z" fill="#86329a"/>
<path d="M4 6h1v1h-1z" fill="#85319a"/>
<path d="M5 6h1v1h-1z" fill="#86329a"/>
<path d="M6 6h1v1h-1z" fill="#89369a"/>
<path d="M7 6h1v1h-1z" fill="#8b389a"/>
<path d="M8 6h1v1h-1z" fill="#903e99"/>
<path d="M9 6h2v1h-2z" fill="#913f99"/>
<path d="M11 6h1v2h-1z" fill="#903e9a"/>
<path d="M13 6h1v2h-1z" fill="#a9579a"/>
<path d="M14 6h1v2h-1z" fill="#c06093"/>
<path d="M0 7h1v1h-1z" fill="#812d9a"/>
<path d="M1 7h1v1h-1z" fill="#822e9a"/>
<path d="M2 7h3v1h-3z" fill="#87339a"/>
<path d="M5 7h1v1h-1z" fill="#88349a"/>
<path d="M6 7h1v1h-1z" fill="#8b389a"/>
<path d="M7 7h1v1h-1z" fill="#8c399a"/>
<path d="M8 7h1v1h-1z" fill="#913f99"/>
<path d="M9 7h2v1h-2z" fill="#924099"/>
<path d="M12 7h1v1h-1z" fill="#913f9a"/>
<path d="M0 8h1v1h-1z" fill="#7a269a"/>
<path d="M1 8h1v1h-1z" fill="#7c289a"/>
<path d="M2 8h1v1h-1z" fill="#87339a"/>
<path d="M3 8h3v1h-3z" fill="#89359a"/>
<path d="M6 8h1v2h-1z" fill="#8d3a9a"/>
<path d="M7 8h1v3h-1z" fill="#8e3b9a"/>
<path d="M8 8h1v1h-1z" fill="#8f3c9a"/>
<path d="M9 8h2v1h-2z" fill="#8f3d99"/>
<path d="M11 8h1v2h-1z" fill="#8e3c99"/>
<path d="M12 8h1v1h-1z" fill="#89349a"/>
<path d="M13 8h1v2h-1z" fill="#a04f9b"/>
<path d="M14 8h1v6h-1z" fill="#c3669a"/>
<path d="M0 9h1v1h-1z" fill="#79259a"/>
<path d="M1 9h1v1h-1z" fill="#7b279a"/>
<path d="M2 9h1v1h-1z" fill="#86329a"/>
<path d="M3 9h1v1h-1z" fill="#88349a"/>
<path d="M4 9h1v1h-1z" fill="#89359a"/>
<path d="M5 9h1v1h-1z" fill="#8a369a"/>
<path d="M8 9h1v1h-1z" fill="#8e3b9a"/>
<path d="M9 9h2v1h-2z" fill="#8e3c99"/>
<path d="M12 9h1v1h-1z" fill="#89339a"/>
<path d="M0 10h1v1h-1z" fill="#78249a"/>
<path d="M1 10h1v1h-1z" fill="#7a259a"/>
<path d="M2 10h1v1h-1z" fill="#812d9a"/>
<path d="M3 10h1v1h-1z" fill="#832f9a"/>
<path d="M4 10h1v1h-1z" fill="#89369a"/>
<path d="M5 10h1v1h-1z" fill="#8c399a"/>
<path d="M6 10h1v1h-1z" fill="#8e3b9a"/>
<path d="M8 10h1v1h-1z" fill="#8d3a9a"/>
<path d="M9 10h3v1h-3z" fill="#8d3b99"/>
<path d="M12 10h1v1h-1z" fill="#923f9a"/>
<path d="M13 10h1v1h-1z" fill="#aa589a"/>
<path d="M0 11h2v1h-2z" fill="#7f2a9a"/>
<path d="M2 11h1v1h-1z" fill="#802c9a"/>
<path d="M3 11h1v1h-1z" fill="#812d9a"/>
<path d="M4 11h1v1h-1z" fill="#88349a"/>
<path d="M5 11h1v1h-1z" fill="#8e3b9a"/>
<path d="M6 11h1v1h-1z" fill="#8f3d9a"/>
<path d="M7 11h1v1h-1z" fill="#8e3c9a"/>
<path d="M8 11h1v1h-1z" fill="#8a369a"/>
<path d="M9 11h3v1h-3z" fill="#89369a"/>
<path d="M12 11h1v1h-1z" fill="#96449b"/>
<path d="M13 11h1v11h-1z" fill="#ab589b"/>
<path d="M15 11h1v11h-1z" fill="#c43f6c"/>
<path d="M16 11h1v11h-1z" fill="#c22b56"/>
<path d="M17 11h1v11h-1z" fill="#c01e4a"/>
<path d="M18 11h1v11h-1z" fill="#bf1742"/>
<path d="M19 11h1v11h-1z" fill="#be0f3b"/>
<path d="M21 11h1v22h-1z" fill="#bf0531"/>
<path d="M22 11h1v55h-1z" fill="#c0022f"/>
<path d="M0 12h5v1h-5z" fill="#86329a"/>
<path d="M5 12h1v1h-1z" fill="#87349a"/>
<path d="M6 12h2v1h-2z" fill="#89359a"/>
<path d="M8 12h4v1h-4z" fill="#88349a"/>
<path d="M12 12h1v3h-1z" fill="#97459b"/>
<path d="M0 13h3v3h-3z" fill="#87339a"/>
<path d="M3 13h1v1h-1z" fill="#86329a"/>
<path d="M4 13h2v1h-2z" fill="#832e99"/>
<path d="M6 13h1v2h-1z" fill="#88349a"/>
<path d="M7 13h1v1h-1z" fill="#8a379a"/>
<path d="M8 13h2v1h-2z" fill="#8b379a"/>
<path d="M10 13h2v1h-2z" fill="#8a369a"/>
<path d="M3 14h1v2h-1z" fill="#87339a"/>
<path d="M4 14h2v1h-2z" fill="#86329a"/>
<path d="M7 14h1v2h-1z" fill="#8f3c99"/>
<path d="M8 14h1v2h-1z" fill="#903e99"/>
<path d="M9 14h1v1h-1z" fill="#903d99"/>
<path d="M10 14h1v2h-1z" fill="#8d3a9a"/>
<path d="M11 14h1v1h-1z" fill="#8d399a"/>
<path d="M14 14h1v3h-1z" fill="#c45b8c"/>
<path d="M4 15h2v1h-2z" fill="#87339a"/>
<path d="M6 15h1v1h-1z" fill="#88359a"/>
<path d="M9 15h1v1h-1z" fill="#8f3d99"/>
<path d="M11 15h1v1h-1z" fill="#8c399a"/>
<path d="M12 15h1v1h-1z" fill="#95429b"/>
<path d="M0 16h5v1h-5z" fill="#89359a"/>
<path d="M5 16h1v1h-1z" fill="#88349a"/>
<path d="M6 16h1v1h-1z" fill="#88339a"/>
<path d="M7 16h1v1h-1z" fill="#89359a"/>
<path d="M8 16h3v1h-3z" fill="#8a369a"/>
<path d="M11 16h2v1h-2z" fill="#89369a"/>
<path d="M0 17h5v3h-5z" fill="#88349a"/>
<path d="M5 17h1v3h-1z" fill="#87339a"/>
<path d="M6 17h2v1h-2z" fill="#812d9a"/>
<path d="M8 17h1v3h-1z" fill="#87339a"/>
<path d="M9 17h3v4h-3z" fill="#88349a"/>
<path d="M12 17h1v4h-1z" fill="#87339a"/>
<path d="M14 17h1v5h-1z" fill="#c4548a"/>
<path d="M6 18h2v1h-2z" fill="#802b9a"/>
<path d="M6 19h2v1h-2z" fill="#812d9a"/>
<path d="M0 20h2v1h-2z" fill="#88349a"/>
<path d="M2 20h2v1h-2z" fill="#89359a"/>
<path d="M4 20h2v1h-2z" fill="#88349a"/>
<path d="M6 20h2v1h-2z" fill="#87339a"/>
<path d="M8 20h1v1h-1z" fill="#88349a"/>
<path d="M0 21h1v1h-1z" fill="#89369a"/>
<path d="M1 21h1v1h-1z" fill="#8a379a"/>
<path d="M2 21h2v1h-2z" fill="#903e99"/>
<path d="M4 21h1v1h-1z" fill="#8b389a"/>
<path d="M5 21h1v1h-1z" fill="#8a379a"/>
<path d="M6 21h6v1h-6z" fill="#89359a"/>
<path d="M12 21h1v1h-1z" fill="#8a369a"/>
<path d="M0 22h1v1h-1z" fill="#903d9a"/>
<path d="M1 22h1v1h-1z" fill="#913e9a"/>
<path d="M2 22h1v1h-1z" fill="#974699"/>
<path d="M3 22h1v1h-1z" fill="#984699"/>
<path d="M4 22h1v1h-1z" fill="#974599"/>
<path d="M5 22h1v1h-1z" fill="#954499"/>
<path d="M6 22h1v1h-1z" fill="#8f3c9a"/>
<path d="M7 22h5v1h-5z" fill="#8e3b9a"/>
<path d="M12 22h1v1h-1z" fill="#98469c"/>
<path d="M13 22h1v6h-1z" fill="#bb689e"/>
<path d="M14 22h1v3h-1z" fill="#c4507f"/>
<path d="M15 22h1v6h-1z" fill="#c2335f"/>
<path d="M16 22h1v7h-1z" fill="#c02450"/>
<path d="M17 22h1v7h-1z" fill="#bf1944"/>
<path d="M18 22h1v7h-1z" fill="#be113d"/>
<path d="M19 22h1v7h-1z" fill="#be0c38"/>
<path d="M20 22h1v11h-1z" fill="#be0834"/>
<path d="M0 23h1v1h-1z" fill="#903e9a"/>
<path d="M1 23h1v1h-1z" fill="#913f9a"/>
<path d="M2 23h1v1h-1z" fill="#964599"/>
<path d="M3 23h1v1h-1z" fill="#974699"/>
<path d="M4 23h1v1h-1z" fill="#984799"/>
<path d="M5 23h1v1h-1z" fill="#974699"/>
<path d="M6 23h1v1h-1z" fill="#913e9a"/>
<path d="M7 23h1v1h-1z" fill="#903d9a"/>
<path d="M8 23h2v1h-2z" fill="#8e3b9a"/>
<path d="M10 23h1v1h-1z" fill="#8d3a9a"/>
<path d="M11 23h1v1h-1z" fill="#8d399a"/>
<path d="M12 23h1v1h-1z" fill="#99479c"/>
<path d="M0 24h2v1h-2z" fill="#8c399a"/>
<path d="M2 24h1v1h-1z" fill="#8d3a9a"/>
<path d="M3 24h1v1h-1z" fill="#8e3b9a"/>
<path d="M4 24h1v1h-1z" fill="#94429a"/>
<path d="M5 24h1v1h-1z" fill="#95439a"/>
<path d="M6 24h1v1h-1z" fill="#93419a"/>
<path d="M7 24h1v2h-1z" fill="#92409a"/>
<path d="M8 24h1v1h-1z" fill="#8c389a"/>
<path d="M9 24h1v2h-1z" fill="#8a369a"/>
<path d="M10 24h1v1h-1z" fill="#832f99"/>
<path d="M11 24h1v1h-1z" fill="#812e99"/>
<path d="M12 24h1v1h-1z" fill="#92409b"/>
<path d="M0 25h3v1h-3z" fill="#8b379a"/>
<path d="M3 25h1v1h-1z" fill="#8b389a"/>
<path d="M4 25h1v1h-1z" fill="#913f9a"/>
<path d="M5 25h2v1h-2z" fill="#92409a"/>
<path d="M8 25h1v1h-1z" fill="#8c399a"/>
<path d="M10 25h1v1h-1z" fill="#822e99"/>
<path d="M11 25h1v1h-1z" fill="#812d99"/>
<path d="M12 25h1v4h-1z" fill="#903e9b"/>
<path d="M14 25h1v4h-1z" fill="#c44873"/>
<path d="M0 26h3v1h-3z" fill="#88359a"/>
<path d="M3 26h1v1h-1z" fill="#89359a"/>
<path d="M4 26h2v1h-2z" fill="#8a369a"/>
<path d="M6 26h1v1h-1z" fill="#8b379a"/>
<path d="M7 26h2v1h-2z" fill="#903e9a"/>
<path d="M9 26h1v1h-1z" fill="#8f3d9a"/>
<path d="M10 26h1v1h-1z" fill="#8a379a"/>
<path d="M11 26h1v1h-1z" fill="#89369a"/>
<path d="M0 27h6v1h-6z" fill="#88349a"/>
<path d="M6 27h1v1h-1z" fill="#89359a"/>
<path d="M7 27h1v1h-1z" fill="#903e9a"/>
<path d="M8 27h1v1h-1z" fill="#913f9a"/>
<path d="M9 27h1v1h-1z" fill="#903e9a"/>
<path d="M10 27h1v2h-1z" fill="#8c399a"/>
<path d="M11 27h1v2h-1z" fill="#8b389a"/>
<path d="M0 28h3v1h-3z" fill="#88359a"/>
<path d="M3 28h1v1h-1z" fill="#88349a"/>
<path d="M4 28h2v1h-2z" fill="#87339a"/>
<path d="M6 28h1v1h-1z" fill="#88349a"/>
<path d="M7 28h1v1h-1z" fill="#8e3b9a"/>
<path d="M8 28h1v1h-1z" fill="#8f3c9a"/>
<path d="M9 28h1v1h-1z" fill="#8e3c9a"/>
<path d="M13 28h1v2h-1z" fill="#b9609a"/>
<path d="M15 28h1v5h-1z" fill="#c02752"/>
<path d="M0 29h1v1h-1z" fill="#8b379a"/>
<path d="M1 29h2v1h-2z" fill="#8b389a"/>
<path d="M3 29h1v1h-1z" fill="#8a379a"/>
<path d="M4 29h1v3h-1z" fill="#842f9a"/>
<path d="M5 29h2v1h-2z" fill="#832e9a"/>
<path d="M7 29h2v1h-2z" fill="#84309a"/>
<path d="M9 29h1v1h-1z" fill="#85319a"/>
<path d="M10 29h1v1h-1z" fill="#8d3a9a"/>
<path d="M11 29h1v1h-1z" fill="#8e3b9a"/>
<path d="M12 29h1v1h-1z" fill="#93419b"/>
<path d="M14 29h1v4h-1z" fill="#c23a64"/>
<path d="M16 29h1v4h-1z" fill="#c01b46"/>
<path d="M17 29h1v4h-1z" fill="#be133e"/>
<path d="M18 29h1v4h-1z" fill="#be0d39"/>
<path d="M19 29h1v4h-1z" fill="#be0935"/>
<path d="M0 30h1v1h-1z" fill="#8b389a"/>
<path d="M1 30h1v1h-1z" fill="#8c399a"/>
<path d="M2 30h1v1h-1z" fill="#8f3d99"/>
<path d="M3 30h1v1h-1z" fill="#8e3c99"/>
<path d="M5 30h4v2h-4z" fill="#822d9a"/>
<path d="M9 30h1v2h-1z" fill="#84309a"/>
<path d="M10 30h1v1h-1z" fill="#91409b"/>
<path d="M11 30h1v1h-1z" fill="#93429b"/>
<path d="M12 30h1v1h-1z" fill="#a4529b"/>
<path d="M13 30h1v3h-1z" fill="#c45286"/>
<path d="M0 31h1v1h-1z" fill="#8c399a"/>
<path d="M1 31h1v1h-1z" fill="#8d3a9a"/>
<path d="M2 31h1v1h-1z" fill="#913f99"/>
<path d="M3 31h1v1h-1z" fill="#903d99"/>
<path d="M10 31h1v2h-1z" fill="#92419b"/>
<path d="M11 31h1v1h-1z" fill="#94449b"/>
<path d="M12 31h1v1h-1z" fill="#a8569b"/>
<path d="M0 32h1v1h-1z" fill="#93409a"/>
<path d="M1 32h2v1h-2z" fill="#93419a"/>
<path d="M3 32h1v1h-1z" fill="#903d9a"/>
<path d="M4 32h1v1h-1z" fill="#85309a"/>
<path d="M5 32h4v1h-4z" fill="#832e9a"/>
<path d="M9 32h1v1h-1z" fill="#85309a"/>
<path d="M11 32h1v1h-1z" fill="#95459b"/>
<path d="M12 32h1v1h-1z" fill="#ac5b9b"/>
<path d="M0 33h2v1h-2z" fill="#92409a"/>
<path d="M2 33h1v1h-1z" fill="#913e9a"/>
<path d="M3 33h1v1h-1z" fill="#8a369a"/>
<path d="M4 33h1v1h-1z" fill="#87329a"/>
<path d="M5 33h1v1h-1z" fill="#86329a"/>
<path d="M6 33h1v1h-1z" fill="#87329a"/>
<path d="M7 33h1v1h-1z" fill="#88359a"/>
<path d="M8 33h1v1h-1z" fill="#89359a"/>
<path d="M9 33h1v1h-1z" fill="#8a369a"/>
<path d="M10 33h1v1h-1z" fill="#913e9a"/>
<path d="M11 33h1v1h-1z" fill="#9c4b9c"/>
<path d="M12 33h1v1h-1z" fill="#b7629c"/>
<path d="M13 33h1v11h-1z" fill="#c4456f"/>
<path d="M14 33h1v11h-1z" fill="#c22c56"/>
<path d="M15 33h1v11h-1z" fill="#c01f4a"/>
<path d="M16 33h1v11h-1z" fill="#bf1642"/>
<path d="M17 33h1v11h-1z" fill="#be103c"/>
<path d="M18 33h1v11h-1z" fill="#be0b37"/>
<path d="M19 33h1v11h-1z" fill="#be0834"/>
<path d="M20 33h1v33h-1z" fill="#bf0431"/>
<path d="M21 33h1v33h-1z" fill="#c00330"/>
<path d="M0 34h3v1h-3z" fill="#89359a"/>
<path d="M3 34h3v1h-3z" fill="#87339a"/>
<path d="M6 34h1v1h-1z" fill="#89359a"/>
<path d="M7 34h1v1h-1z" fill="#94429a"/>
<path d="M8 34h1v1h-1z" fill="#95449a"/>
<path d="M9 34h1v1h-1z" fill="#95439a"/>
<path d="M10 34h1v1h-1z" fill="#93419a"/>
<path d="M11 34h1v1h-1z" fill="#9f4e9c"/>
<path d="M12 34h1v1h-1z" fill="#bb629a"/>
<path d="M0 35h6v1h-6z" fill="#86329a"/>
<path d="M6 35h1v1h-1z" fill="#88349a"/>
<path d="M7 35h1v1h-1z" fill="#93419a"/>
<path d="M8 35h2v1h-2z" fill="#96459a"/>
<path d="M10 35h1v1h-1z" fill="#99479b"/>
<path d="M11 35h1v1h-1z" fill="#a6549c"/>
<path d="M12 35h1v1h-1z" fill="#c25b8e"/>
<path d="M0 36h3v1h-3z" fill="#812d9a"/>
<path d="M3 36h3v1h-3z" fill="#812c9a"/>
<path d="M6 36h1v1h-1z" fill="#812d9a"/>
<path d="M7 36h1v1h-1z" fill="#85319a"/>
<path d="M8 36h1v1h-1z" fill="#8d3a9a"/>
<path d="M9 36h1v1h-1z" fill="#8f3c9a"/>
<path d="M10 36h1v1h-1z" fill="#97459b"/>
<path d="M11 36h1v2h-1z" fill="#a7559c"/>
<path d="M12 36h1v1h-1z" fill="#c45a8c"/>
<path d="M0 37h3v1h-3z" fill="#7a259a"/>
<path d="M3 37h1v1h-1z" fill="#79259a"/>
<path d="M4 37h2v1h-2z" fill="#762299"/>
<path d="M6 37h1v1h-1z" fill="#79259a"/>
<path d="M7 37h1v1h-1z" fill="#7b279a"/>
<path d="M8 37h1v1h-1z" fill="#86329a"/>
<path d="M9 37h1v3h-1z" fill="#88349a"/>
<path d="M10 37h1v1h-1z" fill="#8e3a9a"/>
<path d="M12 37h1v1h-1z" fill="#c4598a"/>
<path d="M0 38h3v2h-3z" fill="#78249a"/>
<path d="M3 38h1v2h-1z" fill="#77249a"/>
<path d="M4 38h2v2h-2z" fill="#742099"/>
<path d="M6 38h1v2h-1z" fill="#77249a"/>
<path d="M7 38h1v2h-1z" fill="#7a269a"/>
<path d="M8 38h1v3h-1z" fill="#85319a"/>
<path d="M10 38h1v2h-1z" fill="#94419a"/>
<path d="M11 38h1v1h-1z" fill="#b15e9d"/>
<path d="M12 38h1v1h-1z" fill="#c55381"/>
<path d="M11 39h1v1h-1z" fill="#b35f9d"/>
<path d="M12 39h1v10h-1z" fill="#c5527f"/>
<path d="M0 40h3v1h-3z" fill="#7a259a"/>
<path d="M3 40h1v1h-1z" fill="#79259a"/>
<path d="M4 40h2v1h-2z" fill="#762299"/>
<path d="M6 40h1v1h-1z" fill="#79259a"/>
<path d="M7 40h1v1h-1z" fill="#7b279a"/>
<path d="M9 40h1v1h-1z" fill="#86329a"/>
<path d="M10 40h1v1h-1z" fill="#8c389a"/>
<path d="M11 40h1v1h-1z" fill="#b25e9d"/>
<path d="M0 41h3v1h-3z" fill="#802c9a"/>
<path d="M3 41h1v1h-1z" fill="#812c9a"/>
<path d="M4 41h2v1h-2z" fill="#812d9a"/>
<path d="M6 41h1v1h-1z" fill="#822e9a"/>
<path d="M7 41h1v1h-1z" fill="#832e9a"/>
<path d="M8 41h1v1h-1z" fill="#86319a"/>
<path d="M9 41h1v1h-1z" fill="#88349a"/>
<path d="M10 41h1v1h-1z" fill="#96449a"/>
<path d="M11 41h1v1h-1z" fill="#b4609d"/>
<path d="M0 42h3v1h-3z" fill="#822d9a"/>
<path d="M3 42h1v1h-1z" fill="#832e9a"/>
<path d="M4 42h1v1h-1z" fill="#8a379a"/>
<path d="M5 42h2v1h-2z" fill="#8b389a"/>
<path d="M7 42h1v1h-1z" fill="#8c399a"/>
<path d="M8 42h1v2h-1z" fill="#94429a"/>
<path d="M9 42h1v1h-1z" fill="#95449a"/>
<path d="M10 42h1v1h-1z" fill="#9b4a9a"/>
<path d="M11 42h1v1h-1z" fill="#b4609e"/>
<path d="M0 43h3v1h-3z" fill="#832e9a"/>
<path d="M3 43h1v1h-1z" fill="#842f9a"/>
<path d="M4 43h1v1h-1z" fill="#8b379a"/>
<path d="M5 43h2v1h-2z" fill="#8c389a"/>
<path d="M7 43h1v1h-1z" fill="#8d3a9a"/>
<path d="M9 43h1v1h-1z" fill="#96449a"/>
<path d="M10 43h1v1h-1z" fill="#9a489a"/>
<path d="M11 43h1v3h-1z" fill="#b4619e"/>
<path d="M0 44h2v1h-2z" fill="#87339a"/>
<path d="M2 44h1v1h-1z" fill="#87329a"/>
<path d="M3 44h1v1h-1z" fill="#852f9a"/>
<path d="M4 44h1v2h-1z" fill="#86309a"/>
<path d="M5 44h3v1h-3z" fill="#86319a"/>
<path d="M8 44h1v2h-1z" fill="#88339a"/>
<path d="M9 44h1v1h-1z" fill="#8a369a"/>
<path d="M10 44h1v1h-1z" fill="#903d9a"/>
<path d="M13 44h1v6h-1z" fill="#c3345f"/>
<path d="M14 44h1v6h-1z" fill="#c1244e"/>
<path d="M15 44h1v6h-1z" fill="#bf1843"/>
<path d="M16 44h1v11h-1z" fill="#be0f3b"/>
<path d="M17 44h1v11h-1z" fill="#be0b37"/>
<path d="M18 44h1v11h-1z" fill="#be0835"/>
<path d="M19 44h1v22h-1z" fill="#bf0532"/>
<path d="M0 45h2v2h-2z" fill="#88349a"/>
<path d="M2 45h1v1h-1z" fill="#88339a"/>
<path d="M3 45h1v1h-1z" fill="#86309a"/>
<path d="M5 45h1v1h-1z" fill="#88329a"/>
<path d="M6 45h2v1h-2z" fill="#88339a"/>
<path d="M9 45h1v1h-1z" fill="#88349a"/>
<path d="M10 45h1v1h-1z" fill="#8f3b9a"/>
<path d="M2 46h1v1h-1z" fill="#88349a"/>
<path d="M3 46h1v1h-1z" fill="#88339a"/>
<path d="M4 46h1v2h-1z" fill="#89359a"/>
<path d="M5 46h1v1h-1z" fill="#94419a"/>
<path d="M6 46h2v2h-2z" fill="#95439a"/>
<path d="M8 46h1v1h-1z" fill="#94429a"/>
<path d="M9 46h1v2h-1z" fill="#8a369a"/>
<path d="M10 46h1v1h-1z" fill="#913e9a"/>
<path d="M11 46h1v1h-1z" fill="#b5619e"/>
<path d="M0 47h2v1h-2z" fill="#86329a"/>
<path d="M2 47h2v1h-2z" fill="#87339a"/>
<path d="M5 47h1v1h-1z" fill="#93419a"/>
<path d="M8 47h1v1h-1z" fill="#93419a"/>
<path d="M10 47h1v1h-1z" fill="#8f3c9b"/>
<path d="M11 47h1v1h-1z" fill="#b4619e"/>
<path d="M0 48h1v1h-1z" fill="#7c289a"/>
<path d="M1 48h1v1h-1z" fill="#7d299a"/>
<path d="M2 48h1v1h-1z" fill="#822d9a"/>
<path d="M3 48h2v1h-2z" fill="#832e9a"/>
<path d="M5 48h3v1h-3z" fill="#85319a"/>
<path d="M8 48h1v1h-1z" fill="#86319a"/>
<path d="M9 48h1v1h-1z" fill="#85319a"/>
<path d="M10 48h1v1h-1z" fill="#701c9b"/>
<path d="M11 48h1v1h-1z" fill="#b25f9e"/>
<path d="M0 49h1v1h-1z" fill="#7d299a"/>
<path d="M1 49h1v1h-1z" fill="#7e2a9a"/>
<path d="M2 49h1v1h-1z" fill="#812d9a"/>
<path d="M3 49h3v1h-3z" fill="#822d9a"/>
<path d="M6 49h2v1h-2z" fill="#84309a"/>
<path d="M8 49h1v1h-1z" fill="#842f9a"/>
<path d="M9 49h1v1h-1z" fill="#87339a"/>
<path d="M10 49h1v1h-1z" fill="#7a279b"/>
<path d="M11 49h1v1h-1z" fill="#b55d9a"/>
<path d="M12 49h1v1h-1z" fill="#c54d7a"/>
<path d="M0 50h1v1h-1z" fill="#8c3a9a"/>
<path d="M1 50h1v1h-1z" fill="#8b389a"/>
<path d="M2 50h1v1h-1z" fill="#832f9a"/>
<path d="M3 50h2v1h-2z" fill="#822d9a"/>
<path d="M5 50h1v2h-1z" fill="#842f9a"/>
<path d="M6 50h1v1h-1z" fill="#8f3d9a"/>
<path d="M7 50h1v1h-1z" fill="#903d9a"/>
<path d="M8 50h1v1h-1z" fill="#89359a"/>
<path d="M9 50h1v1h-1z" fill="#8e3b9a"/>
<path d="M10 50h1v1h-1z" fill="#a54f99"/>
<path d="M11 50h1v1h-1z" fill="#be528b"/>
<path d="M12 50h1v1h-1z" fill="#c33765"/>
<path d="M13 50h1v5h-1z" fill="#c1244e"/>
<path d="M14 50h1v5h-1z" fill="#c01845"/>
<path d="M15 50h1v16h-1z" fill="#be103c"/>
<path d="M0 51h1v2h-1z" fill="#8f3d9a"/>
<path d="M1 51h1v1h-1z" fill="#8e3b9a"/>
<path d="M2 51h1v1h-1z" fill="#86329a"/>
<path d="M3 51h1v1h-1z" fill="#84309a"/>
<path d="M4 51h1v1h-1z" fill="#832e9a"/>
<path d="M6 51h2v1h-2z" fill="#8e3b9a"/>
<path d="M8 51h1v1h-1z" fill="#87349a"/>
<path d="M9 51h1v1h-1z" fill="#913e9a"/>
<path d="M10 51h1v1h-1z" fill="#b15a9a"/>
<path d="M11 51h1v3h-1z" fill="#c15188"/>
<path d="M12 51h1v3h-1z" fill="#c33260"/>
<path d="M1 52h1v1h-1z" fill="#8f3d9a"/>
<path d="M2 52h1v1h-1z" fill="#913f9a"/>
<path d="M3 52h1v1h-1z" fill="#903d9a"/>
<path d="M4 52h1v1h-1z" fill="#86319a"/>
<path d="M5 52h1v1h-1z" fill="#832e9a"/>
<path d="M6 52h1v1h-1z" fill="#7a2699"/>
<path d="M7 52h1v1h-1z" fill="#792599"/>
<path d="M8 52h1v1h-1z" fill="#7a2699"/>
<path d="M9 52h1v1h-1z" fill="#903d9a"/>
<path d="M10 52h1v1h-1z" fill="#b35c9b"/>
<path d="M0 53h1v1h-1z" fill="#8c399a"/>
<path d="M1 53h1v1h-1z" fill="#8c3a9a"/>
<path d="M2 53h1v1h-1z" fill="#92409a"/>
<path d="M3 53h1v1h-1z" fill="#913f9a"/>
<path d="M4 53h1v1h-1z" fill="#87329a"/>
<path d="M5 53h1v1h-1z" fill="#842f9a"/>
<path d="M6 53h1v1h-1z" fill="#792599"/>
<path d="M7 53h1v1h-1z" fill="#772499"/>
<path d="M8 53h1v1h-1z" fill="#7b2799"/>
<path d="M9 53h1v1h-1z" fill="#96449a"/>
<path d="M10 53h1v1h-1z" fill="#b45d9b"/>
<path d="M0 54h1v1h-1z" fill="#7c289a"/>
<path d="M1 54h1v1h-1z" fill="#7e2a9a"/>
<path d="M2 54h1v1h-1z" fill="#8a379a"/>
<path d="M3 54h1v1h-1z" fill="#8b389a"/>
<path d="M4 54h1v1h-1z" fill="#8a369a"/>
<path d="M5 54h1v1h-1z" fill="#89369a"/>
<path d="M6 54h2v1h-2z" fill="#88359a"/>
<path d="M8 54h1v1h-1z" fill="#8b389a"/>
<path d="M9 54h1v1h-1z" fill="#a2509b"/>
<path d="M10 54h1v1h-1z" fill="#b75f9a"/>
<path d="M11 54h1v1h-1z" fill="#c24f85"/>
<path d="M12 54h1v1h-1z" fill="#c3315f"/>
<path d="M0 55h1v1h-1z" fill="#7b289a"/>
<path d="M1 55h1v1h-1z" fill="#7d299a"/>
<path d="M2 55h1v1h-1z" fill="#85319a"/>
<path d="M3 55h1v1h-1z" fill="#86329a"/>
<path d="M4 55h1v1h-1z" fill="#84319a"/>
<path d="M5 55h1v1h-1z" fill="#85319a"/>
<path d="M6 55h1v1h-1z" fill="#89369a"/>
<path d="M7 55h1v1h-1z" fill="#8c399a"/>
<path d="M8 55h1v1h-1z" fill="#8b399a"/>
<path d="M9 55h1v1h-1z" fill="#a24e9b"/>
<path d="M10 55h1v1h-1z" fill="#bd5e96"/>
<path d="M11 55h1v1h-1z" fill="#c34675"/>
<path d="M12 55h1v1h-1z" fill="#c22c58"/>
<path d="M13 55h1v11h-1z" fill="#c01d49"/>
<path d="M14 55h1v11h-1z" fill="#bf1642"/>
<path d="M16 55h1v11h-1z" fill="#be0c38"/>
<path d="M17 55h1v11h-1z" fill="#be0935"/>
<path d="M18 55h1v11h-1z" fill="#bf0532"/>
<path d="M0 56h1v1h-1z" fill="#84309a"/>
<path d="M1 56h1v1h-1z" fill="#832f9a"/>
<path d="M2 56h1v1h-1z" fill="#7e2a9a"/>
<path d="M3 56h1v1h-1z" fill="#7c299a"/>
<path d="M4 56h2v2h-2z" fill="#701e99"/>
<path d="M6 56h1v1h-1z" fill="#7a279a"/>
<path d="M7 56h1v1h-1z" fill="#79259a"/>
<path d="M8 56h1v1h-1z" fill="#60119a"/>
<path d="M9 56h1v1h-1z" fill="#923d9a"/>
<path d="M10 56h1v1h-1z" fill="#bd5a93"/>
<path d="M11 56h1v1h-1z" fill="#c44371"/>
<path d="M12 56h1v10h-1z" fill="#c22b57"/>
<path d="M0 57h1v4h-1z" fill="#86329a"/>
<path d="M1 57h1v3h-1z" fill="#85319a"/>
<path d="M2 57h1v1h-1z" fill="#7d299a"/>
<path d="M3 57h1v1h-1z" fill="#7b279a"/>
<path d="M6 57h1v1h-1z" fill="#79259a"/>
<path d="M7 57h1v1h-1z" fill="#711f9b"/>
<path d="M8 57h1v2h-1z" fill="#4d029b"/>
<path d="M9 57h1v1h-1z" fill="#8e3898"/>
<path d="M10 57h1v1h-1z" fill="#bd4e89"/>
<path d="M11 57h1v1h-1z" fill="#c44170"/>
<path d="M2 58h1v1h-1z" fill="#7e2a9a"/>
<path d="M3 58h1v1h-1z" fill="#7d299a"/>
<path d="M4 58h1v1h-1z" fill="#7c289a"/>
<path d="M5 58h1v1h-1z" fill="#7d2a9a"/>
<path d="M6 58h1v1h-1z" fill="#86329a"/>
<path d="M7 58h1v1h-1z" fill="#7b289a"/>
<path d="M9 58h1v1h-1z" fill="#943e98"/>
<path d="M10 58h1v1h-1z" fill="#bf4d87"/>
<path d="M11 58h1v8h-1z" fill="#c4416f"/>
<path d="M2 59h2v1h-2z" fill="#822d9a"/>
<path d="M4 59h1v1h-1z" fill="#86319a"/>
<path d="M5 59h1v1h-1z" fill="#88349a"/>
<path d="M6 59h1v1h-1z" fill="#93419a"/>
<path d="M7 59h1v1h-1z" fill="#8b399a"/>
<path d="M8 59h1v1h-1z" fill="#69179a"/>
<path d="M9 59h1v1h-1z" fill="#9d4799"/>
<path d="M10 59h1v1h-1z" fill="#c04e87"/>
<path d="M1 60h1v1h-1z" fill="#86319a"/>
<path d="M2 60h1v1h-1z" fill="#822e9a"/>
<path d="M3 60h1v5h-1z" fill="#832e9a"/>
<path d="M4 60h1v1h-1z" fill="#87329a"/>
<path d="M5 60h1v1h-1z" fill="#8a359a"/>
<path d="M6 60h1v2h-1z" fill="#96459a"/>
<path d="M7 60h1v1h-1z" fill="#96449a"/>
<path d="M8 60h1v1h-1z" fill="#8e3b9a"/>
<path d="M9 60h1v1h-1z" fill="#ad569a"/>
<path d="M10 60h1v6h-1z" fill="#c25087"/>
<path d="M0 61h2v1h-2z" fill="#832f9a"/>
<path d="M2 61h1v1h-1z" fill="#822d9a"/>
<path d="M4 61h1v1h-1z" fill="#88339a"/>
<path d="M5 61h1v1h-1z" fill="#8a369a"/>
<path d="M7 61h1v1h-1z" fill="#99479a"/>
<path d="M8 61h1v1h-1z" fill="#95439a"/>
<path d="M9 61h1v2h-1z" fill="#b15a9a"/>
<path d="M0 62h1v1h-1z" fill="#77239a"/>
<path d="M1 62h1v1h-1z" fill="#78249a"/>
<path d="M2 62h1v1h-1z" fill="#812c9a"/>
<path d="M4 62h1v1h-1z" fill="#8a369a"/>
<path d="M5 62h1v1h-1z" fill="#8c399a"/>
<path d="M6 62h1v1h-1z" fill="#95439a"/>
<path d="M7 62h1v1h-1z" fill="#97449a"/>
<path d="M8 62h1v1h-1z" fill="#95429a"/>
<path d="M0 63h1v1h-1z" fill="#75219a"/>
<path d="M1 63h1v1h-1z" fill="#76229a"/>
<path d="M2 63h1v1h-1z" fill="#802c9a"/>
<path d="M4 63h1v1h-1z" fill="#8a379a"/>
<path d="M5 63h1v1h-1z" fill="#8b389a"/>
<path d="M6 63h1v1h-1z" fill="#8b379a"/>
<path d="M7 63h1v1h-1z" fill="#8c399a"/>
<path d="M8 63h1v1h-1z" fill="#8f3b9a"/>
<path d="M9 63h1v3h-1z" fill="#b0599a"/>
<path d="M0 64h1v1h-1z" fill="#79259a"/>
<path d="M1 64h1v1h-1z" fill="#7a269a"/>
<path d="M2 64h1v2h-1z" fill="#812c9a"/>
<path d="M4 64h1v1h-1z" fill="#88359a"/>
<path d="M5 64h1v1h-1z" fill="#89369a"/>
<path d="M6 64h1v1h-1z" fill="#89359a"/>
<path d="M7 64h1v2h-1z" fill="#8a379a"/>
<path d="M8 64h1v2h-1z" fill="#8e3a9a"/>
<path d="M0 65h1v1h-1z" fill="#7a269a"/>
<path d="M1 65h1v1h-1z" fill="#7b279a"/>
<path d="M3 65h1v1h-1z" fill="#822d9a"/>
<path d="M4 65h1v1h-1z" fill="#812c9a"/>
<path d="M5 65h1v1h-1z" fill="#822d9a"/>
<path d="M6 65h1v1h-1z" fill="#87349a"/>
</g>
<g fill="#0a0a12">
<circle cx="292.4" cy="62.5" r="1.5"/><circle cx="292.4" cy="81.6" r="1.5"/><circle cx="291.4" cy="99.5" r="1.5"/><circle cx="292.4" cy="117.6" r="1.5"/><circle cx="296.3" cy="136.4" r="1.5"/><circle cx="295.4" cy="154.4" r="1.5"/><circle cx="289.4" cy="173.6" r="1.5"/><circle cx="287.5" cy="191.4" r="1.5"/><circle cx="291.4" cy="209.6" r="1.5"/><circle cx="291.4" cy="228.3" r="1.5"/><circle cx="288.4" cy="246.3" r="1.5"/><circle cx="288.4" cy="265.4" r="1.5"/><circle cx="290.4" cy="283.6" r="1.5"/><circle cx="290.4" cy="302.3" r="1.5"/><circle cx="286.5" cy="320.4" r="1.5"/><circle cx="284.5" cy="338.4" r="1.5"/><circle cx="283.4" cy="357.4" r="1.5"/><circle cx="282.4" cy="375.5" r="1.5"/><circle cx="282.4" cy="380.6" r="1.5"/><circle cx="281.5" cy="394.6" r="1.5"/><circle cx="281.5" cy="412.5" r="1.5"/><circle cx="280.5" cy="430.3" r="1.5"/><circle cx="278.5" cy="449.5" r="1.5"/><circle cx="274.4" cy="467.5" r="1.5"/><circle cx="274.4" cy="486.6" r="1.5"/><circle cx="277.4" cy="504.5" r="1.5"/><circle cx="276.4" cy="522.6" r="1.5"/><circle cx="271.3" cy="541.4" r="1.5"/><circle cx="269.3" cy="559.4" r="1.5"/><circle cx="269.3" cy="578.6" r="1.5"/><circle cx="267.4" cy="596.6" r="1.5"/><circle cx="264.4" cy="615" r="1.5"/><circle cx="261.4" cy="633.3" r="1.5"/><circle cx="260.4" cy="651.4" r="1.5"/><circle cx="257.4" cy="670.4" r="1.5"/><circle cx="253.5" cy="688.6" r="1.5"/><circle cx="249.4" cy="707.5" r="1.5"/><circle cx="246.3" cy="725.3" r="1.5"/><circle cx="245.4" cy="731.4" r="1.5"/><circle cx="243.3" cy="743.4" r="1.5"/><circle cx="241.4" cy="762.5" r="1.5"/><circle cx="240.3" cy="780.6" r="1.5"/><circle cx="241.4" cy="799.4" r="1.5"/><circle cx="241.4" cy="817.4" r="1.5"/><circle cx="242.4" cy="835.3" r="1.5"/><circle cx="242.4" cy="854.3" r="1.5"/><circle cx="243.3" cy="872.5" r="1.5"/><circle cx="242.4" cy="891.6" r="1.5"/><circle cx="238.4" cy="909.5" r="1.5"/><circle cx="237.5" cy="927.6" r="1.5"/><circle cx="236.4" cy="946.4" r="1.5"/><circle cx="233.4" cy="964.4" r="1.5"/><circle cx="227" cy="981.7" r="1.5"/><circle cx="226.4" cy="983.6" r="1.5"/><circle cx="223.4" cy="1001.6" r="1.5"/><circle cx="224.4" cy="1019.6" r="1.5"/><circle cx="223.4" cy="1038.3" r="1.5"/><circle cx="222.5" cy="1056.4" r="1.5"/><circle cx="219.4" cy="1075.4" r="1.5"/><circle cx="215.3" cy="1093.6" r="1.5"/><circle cx="211.4" cy="1112.5" r="1.5"/><circle cx="208.4" cy="1124.5" r="1.5"/><circle cx="208.4" cy="1130.3" r="1.5"/><circle cx="207.4" cy="1148.4" r="1.5"/><circle cx="208.4" cy="1167.5" r="1.5"/><circle cx="208.4" cy="1172.6" r="1.5"/><circle cx="209.5" cy="1185.6" r="1.5"/><circle cx="210.4" cy="1204.4" r="1.5"/><circle cx="209.5" cy="1222.4" r="1.5"/><circle cx="208.4" cy="1233.5" r="1.5"/><circle cx="208.4" cy="1240.3" r="1.5"/><circle cx="207.4" cy="1259.5" r="1.5"/>
</g>
<g fill="#0a0a12">
<circle cx="1150.35" cy="62.5" r="1.5"/><circle cx="1150.35" cy="81.6" r="1.5"/><circle cx="1149.35" cy="99.5" r="1.5"/><circle cx="1150.35" cy="117.6" r="1.5"/><circle cx="1154.25" cy="136.4" r="1.5"/><circle cx="1153.35" cy="154.4" r="1.5"/><circle cx="1147.35" cy="173.6" r="1.5"/><circle cx="1145.45" cy="191.4" r="1.5"/><circle cx="1149.35" cy="209.6" r="1.5"/><circle cx="1149.35" cy="228.3" r="1.5"/><circle cx="1146.35" cy="246.3" r="1.5"/><circle cx="1146.35" cy="265.4" r="1.5"/><circle cx="1148.35" cy="283.6" r="1.5"/><circle cx="1148.35" cy="302.3" r="1.5"/><circle cx="1144.45" cy="320.4" r="1.5"/><circle cx="1142.45" cy="338.4" r="1.5"/><circle cx="1141.35" cy="357.4" r="1.5"/><circle cx="1140.35" cy="375.5" r="1.5"/><circle cx="1140.35" cy="380.6" r="1.5"/><circle cx="1139.45" cy="394.6" r="1.5"/><circle cx="1139.45" cy="412.5" r="1.5"/><circle cx="1138.45" cy="430.3" r="1.5"/><circle cx="1136.45" cy="449.5" r="1.5"/><circle cx="1132.35" cy="467.5" r="1.5"/><circle cx="1132.35" cy="486.6" r="1.5"/><circle cx="1135.35" cy="504.5" r="1.5"/><circle cx="1134.35" cy="522.6" r="1.5"/><circle cx="1129.25" cy="541.4" r="1.5"/><circle cx="1127.25" cy="559.4" r="1.5"/><circle cx="1127.25" cy="578.6" r="1.5"/><circle cx="1125.35" cy="596.6" r="1.5"/><circle cx="1122.35" cy="615" r="1.5"/><circle cx="1119.35" cy="633.3" r="1.5"/><circle cx="1118.35" cy="651.4" r="1.5"/><circle cx="1115.35" cy="670.4" r="1.5"/><circle cx="1111.45" cy="688.6" r="1.5"/><circle cx="1107.35" cy="707.5" r="1.5"/><circle cx="1104.25" cy="725.3" r="1.5"/><circle cx="1103.35" cy="731.4" r="1.5"/><circle cx="1101.25" cy="743.4" r="1.5"/><circle cx="1099.35" cy="762.5" r="1.5"/><circle cx="1098.25" cy="780.6" r="1.5"/><circle cx="1099.35" cy="799.4" r="1.5"/><circle cx="1099.35" cy="817.4" r="1.5"/><circle cx="1100.35" cy="835.3" r="1.5"/><circle cx="1100.35" cy="854.3" r="1.5"/><circle cx="1101.25" cy="872.5" r="1.5"/><circle cx="1100.35" cy="891.6" r="1.5"/><circle cx="1096.35" cy="909.5" r="1.5"/><circle cx="1095.45" cy="927.6" r="1.5"/><circle cx="1094.35" cy="946.4" r="1.5"/><circle cx="1091.35" cy="964.4" r="1.5"/><circle cx="1084.95" cy="981.7" r="1.5"/><circle cx="1084.35" cy="983.6" r="1.5"/><circle cx="1081.35" cy="1001.6" r="1.5"/><circle cx="1082.35" cy="1019.6" r="1.5"/><circle cx="1081.35" cy="1038.3" r="1.5"/><circle cx="1080.45" cy="1056.4" r="1.5"/><circle cx="1077.35" cy="1075.4" r="1.5"/><circle cx="1073.25" cy="1093.6" r="1.5"/><circle cx="1069.35" cy="1112.5" r="1.5"/><circle cx="1066.35" cy="1124.5" r="1.5"/><circle cx="1066.35" cy="1130.3" r="1.5"/><circle cx="1065.35" cy="1148.4" r="1.5"/><circle cx="1066.35" cy="1167.5" r="1.5"/><circle cx="1066.35" cy="1172.6" r="1.5"/><circle cx="1067.45" cy="1185.6" r="1.5"/><circle cx="1068.35" cy="1204.4" r="1.5"/><circle cx="1067.45" cy="1222.4" r="1.5"/><circle cx="1066.35" cy="1233.5" r="1.5"/><circle cx="1066.35" cy="1240.3" r="1.5"/><circle cx="1065.35" cy="1259.5" r="1.5"/>
</g>
<g fill="#0a0a12">
<circle cx="2007.35" cy="62.5" r="1.5"/><circle cx="2007.35" cy="81.6" r="1.5"/><circle cx="2006.35" cy="99.5" r="1.5"/><circle cx="2007.35" cy="117.6" r="1.5"/><circle cx="2011.25" cy="136.4" r="1.5"/><circle cx="2010.35" cy="154.4" r="1.5"/><circle cx="2004.35" cy="173.6" r="1.5"/><circle cx="2002.45" cy="191.4" r="1.5"/><circle cx="2006.35" cy="209.6" r="1.5"/><circle cx="2006.35" cy="228.3" r="1.5"/><circle cx="2003.35" cy="246.3" r="1.5"/><circle cx="2003.35" cy="265.4" r="1.5"/><circle cx="2005.35" cy="283.6" r="1.5"/><circle cx="2005.35" cy="302.3" r="1.5"/><circle cx="2001.45" cy="320.4" r="1.5"/><circle cx="1999.45" cy="338.4" r="1.5"/><circle cx="1998.35" cy="357.4" r="1.5"/><circle cx="1997.35" cy="375.5" r="1.5"/><circle cx="1997.35" cy="380.6" r="1.5"/><circle cx="1996.45" cy="394.6" r="1.5"/><circle cx="1996.45" cy="412.5" r="1.5"/><circle cx="1995.45" cy="430.3" r="1.5"/><circle cx="1993.45" cy="449.5" r="1.5"/><circle cx="1989.35" cy="467.5" r="1.5"/><circle cx="1989.35" cy="486.6" r="1.5"/><circle cx="1992.35" cy="504.5" r="1.5"/><circle cx="1991.35" cy="522.6" r="1.5"/><circle cx="1986.25" cy="541.4" r="1.5"/><circle cx="1984.25" cy="559.4" r="1.5"/><circle cx="1984.25" cy="578.6" r="1.5"/><circle cx="1982.35" cy="596.6" r="1.5"/><circle cx="1979.35" cy="615" r="1.5"/><circle cx="1976.35" cy="633.3" r="1.5"/><circle cx="1975.35" cy="651.4" r="1.5"/><circle cx="1972.35" cy="670.4" r="1.5"/><circle cx="1968.45" cy="688.6" r="1.5"/><circle cx="1964.35" cy="707.5" r="1.5"/><circle cx="1961.25" cy="725.3" r="1.5"/><circle cx="1960.35" cy="731.4" r="1.5"/><circle cx="1958.25" cy="743.4" r="1.5"/><circle cx="1956.35" cy="762.5" r="1.5"/><circle cx="1955.25" cy="780.6" r="1.5"/><circle cx="1956.35" cy="799.4" r="1.5"/><circle cx="1956.35" cy="817.4" r="1.5"/><circle cx="1957.35" cy="835.3" r="1.5"/><circle cx="1957.35" cy="854.3" r="1.5"/><circle cx="1958.25" cy="872.5" r="1.5"/><circle cx="1957.35" cy="891.6" r="1.5"/><circle cx="1953.35" cy="909.5" r="1.5"/><circle cx="1952.45" cy="927.6" r="1.5"/><circle cx="1951.35" cy="946.4" r="1.5"/><circle cx="1948.35" cy="964.4" r="1.5"/><circle cx="1941.95" cy="981.7" r="1.5"/><circle cx="1941.35" cy="983.6" r="1.5"/><circle cx="1938.35" cy="1001.6" r="1.5"/><circle cx="1939.35" cy="1019.6" r="1.5"/><circle cx="1938.35" cy="1038.3" r="1.5"/><circle cx="1937.45" cy="1056.4" r="1.5"/><circle cx="1934.35" cy="1075.4" r="1.5"/><circle cx="1930.25" cy="1093.6" r="1.5"/><circle cx="1926.35" cy="1112.5" r="1.5"/><circle cx="1923.35" cy="1124.5" r="1.5"/><circle cx="1923.35" cy="1130.3" r="1.5"/><circle cx="1922.35" cy="1148.4" r="1.5"/><circle cx="1923.35" cy="1167.5" r="1.5"/><circle cx="1923.35" cy="1172.6" r="1.5"/><circle cx="1924.45" cy="1185.6" r="1.5"/><circle cx="1925.35" cy="1204.4" r="1.5"/><circle cx="1924.45" cy="1222.4" r="1.5"/><circle cx="1923.35" cy="1233.5" r="1.5"/><circle cx="1923.35" cy="1240.3" r="1.5"/><circle cx="1922.35" cy="1259.5" r="1.5"/>
</g>
<text class="t" x="236" y="41">sar0619</text>
<text class="t" x="1093.5" y="41">2006-10-26-10-00-24</text>
<text class="t" x="1950.8" y="41">L5</text>
<rect x="1325" y="671" width="346.5" height="158" rx="5" ry="5" fill="#fff" fill-opacity="0.8" stroke="#cccccc" stroke-width="2"/>
<rect x="1332.1" y="680.3" width="43.8" height="15.4" fill="#fd8d3c"/>
<rect x="1332.1" y="710.4" width="43.8" height="15.8" fill="#c7fcfc"/>
<rect x="1332.1" y="741.2" width="43.8" height="15.6" fill="#0354ff"/>
<line x1="1332.1" y1="779.4" x2="1376.9" y2="779.4" stroke="#000" stroke-width="3.2"/>
<rect x="1332.9" y="802.1" width="42.2" height="14.8" fill="#98302f" stroke="#7a1b20" stroke-width="1.6"/>
<text class="l" x="1392.5" y="695.7">sand</text>
<text class="l" x="1392.5" y="726.1">whitewater</text>
<text class="l" x="1392.5" y="756.5">water</text>
<text class="l" x="1392.5" y="786.9">shoreline</text>
<text class="l" x="1392.5" y="817.3">reference shoreline buffer</text>
</svg>
</body></html>
